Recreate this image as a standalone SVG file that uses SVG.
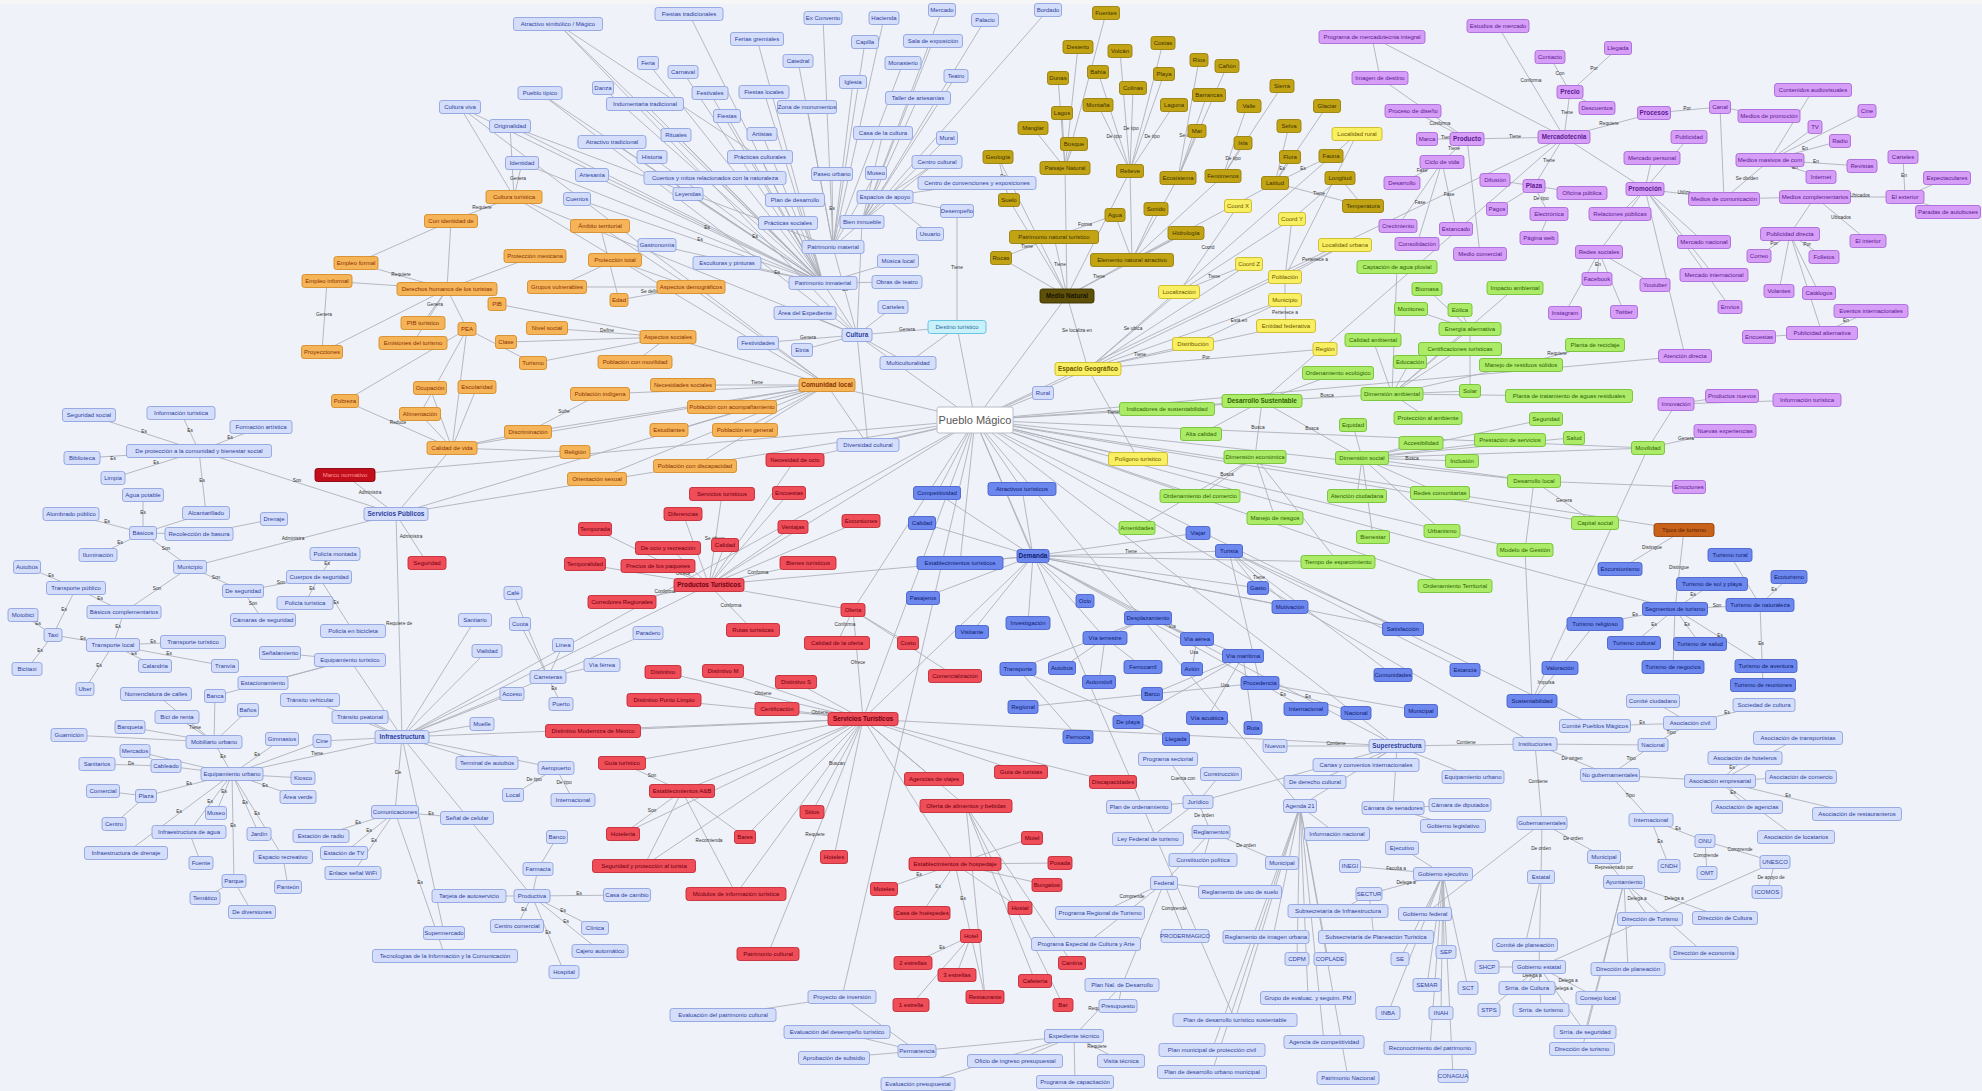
<svg xmlns="http://www.w3.org/2000/svg" width="1982" height="1091" viewBox="0 0 1982 1091">
<style>
text{font-family:"Liberation Sans",Arial,sans-serif;font-size:6px;text-anchor:middle}
.n rect{stroke-width:0.9;rx:2.5}
.lb rect{fill:#d4defa;stroke:#8fa3e0}.lb text{fill:#2d3f9e}
.or rect{fill:#f5b457;stroke:#d68c28}.or text{fill:#8a3206}
.ol rect{fill:#c2a314;stroke:#97800c}.ol text{fill:#3d3200}
.ye rect{fill:#f9ef62;stroke:#cdb925}.ye text{fill:#6a5600}
.pu rect{fill:#d69ef7;stroke:#aa6ad9}.pu text{fill:#5c1893}
.gr rect{fill:#abeb68;stroke:#73c232}.gr text{fill:#2d6200}
.rd rect{fill:#ef4d58;stroke:#c42b37}.rd text{fill:#6e0012}
.mb rect{fill:#6c88ef;stroke:#4963cb}.mb text{fill:#0f1b6e}
.dr rect{fill:#c20d1a;stroke:#8a0008}.dr text{fill:#ff9a9a}
.do rect{fill:#5e5008;stroke:#3a3000}.do text{fill:#1a1400}
.br rect{fill:#c8621a;stroke:#96440c}.br text{fill:#5a2000}
.cy rect{fill:#c9f1fb;stroke:#5ac0e0}.cy text{fill:#2a6a9a}
.b text{font-weight:bold;font-size:6.4px}
#connectors line{stroke:#abaeb8;stroke-width:0.85}
#labels text{font-size:4.8px;fill:#333}
</style>
<rect width="1982" height="1091" fill="#eff2f8"/>
<rect width="1982" height="4" fill="#f6f6f6"/>
<g id="connectors">
<line x1="975" y1="420" x2="1088" y2="369"/><line x1="975" y1="420" x2="827" y2="385"/><line x1="975" y1="420" x2="857" y2="335"/><line x1="975" y1="420" x2="396" y2="514"/><line x1="975" y1="420" x2="402" y2="737"/><line x1="975" y1="420" x2="1397" y2="746"/><line x1="975" y1="420" x2="1262" y2="401"/><line x1="975" y1="420" x2="1033" y2="556"/><line x1="975" y1="420" x2="863" y2="719"/><line x1="975" y1="420" x2="709" y2="585"/><line x1="975" y1="420" x2="1564" y2="137"/><line x1="975" y1="420" x2="957" y2="327"/><line x1="975" y1="420" x2="1067" y2="296"/><line x1="975" y1="420" x2="1043" y2="393"/><line x1="975" y1="420" x2="868" y2="445"/><line x1="975" y1="420" x2="1138" y2="459"/><line x1="975" y1="420" x2="1022" y2="489"/><line x1="975" y1="420" x2="937" y2="493"/><line x1="975" y1="420" x2="345" y2="475"/><line x1="975" y1="420" x2="853" y2="610"/><line x1="975" y1="420" x2="960" y2="563"/><line x1="975" y1="420" x2="1675" y2="609"/><line x1="975" y1="420" x2="1534" y2="481"/><line x1="975" y1="420" x2="1535" y2="744"/><line x1="975" y1="420" x2="842" y2="997"/><line x1="975" y1="420" x2="1235" y2="1020"/><line x1="975" y1="420" x2="1300" y2="806"/><line x1="975" y1="420" x2="1595" y2="726"/><line x1="975" y1="420" x2="1684" y2="530"/><line x1="975" y1="420" x2="1455" y2="586"/><line x1="975" y1="420" x2="1525" y2="550"/><line x1="975" y1="420" x2="1595" y2="523"/><line x1="975" y1="420" x2="1648" y2="448"/><line x1="975" y1="420" x2="1685" y2="356"/><line x1="975" y1="420" x2="1200" y2="496"/><line x1="975" y1="420" x2="1167" y2="409"/><line x1="975" y1="420" x2="795" y2="460"/>
<line x1="402" y1="737" x2="863" y2="719"/><line x1="402" y1="737" x2="709" y2="585"/><line x1="396" y1="514" x2="827" y2="385"/><line x1="863" y1="719" x2="1397" y2="746"/><line x1="558" y1="24" x2="857" y2="335"/><line x1="540" y1="93" x2="857" y2="335"/><line x1="460" y1="107" x2="827" y2="385"/><line x1="510" y1="126" x2="833" y2="247"/><line x1="558" y1="24" x2="760" y2="157"/><line x1="1033" y1="556" x2="863" y2="719"/><line x1="827" y1="385" x2="868" y2="445"/><line x1="709" y1="585" x2="1033" y2="556"/><line x1="1564" y1="137" x2="1262" y2="401"/><line x1="1397" y1="746" x2="1033" y2="556"/>
<line x1="1088" y1="369" x2="1179" y2="292"/><line x1="1088" y1="369" x2="1193" y2="344"/><line x1="1088" y1="369" x2="1067" y2="296"/><line x1="1088" y1="369" x2="1286" y2="326"/><line x1="1088" y1="369" x2="1325" y2="349"/><line x1="1088" y1="369" x2="1138" y2="459"/><line x1="1088" y1="369" x2="1285" y2="300"/><line x1="1088" y1="369" x2="1249" y2="264"/><line x1="1088" y1="369" x2="1345" y2="245"/><line x1="1088" y1="369" x2="1357" y2="134"/>
<line x1="1179" y1="292" x2="1238" y2="206"/><line x1="1179" y1="292" x2="1292" y2="219"/><line x1="1179" y1="292" x2="1249" y2="264"/><line x1="1285" y1="300" x2="1285" y2="277"/><line x1="1285" y1="277" x2="1345" y2="245"/><line x1="1285" y1="277" x2="1357" y2="134"/><line x1="1285" y1="277" x2="1292" y2="219"/><line x1="1286" y1="326" x2="1285" y2="300"/><line x1="1193" y1="344" x2="1285" y2="300"/>
<line x1="1067" y1="296" x2="1054" y2="237"/><line x1="1067" y1="296" x2="1132" y2="260"/><line x1="1067" y1="296" x2="1065" y2="168"/><line x1="1067" y1="296" x2="1001" y2="258"/><line x1="1067" y1="296" x2="1009" y2="200"/><line x1="1067" y1="296" x2="998" y2="157"/><line x1="1067" y1="296" x2="1186" y2="233"/><line x1="1067" y1="296" x2="1130" y2="171"/>
<line x1="1132" y1="260" x2="1130" y2="171"/><line x1="1132" y1="260" x2="1115" y2="215"/><line x1="1132" y1="260" x2="1156" y2="209"/><line x1="1132" y1="260" x2="1186" y2="233"/><line x1="1132" y1="260" x2="1178" y2="178"/><line x1="1132" y1="260" x2="1223" y2="176"/><line x1="1132" y1="260" x2="1275" y2="183"/>
<line x1="1130" y1="171" x2="1098" y2="105"/><line x1="1130" y1="171" x2="1133" y2="88"/><line x1="1130" y1="171" x2="1174" y2="105"/><line x1="1130" y1="171" x2="1164" y2="74"/><line x1="1130" y1="171" x2="1120" y2="51"/><line x1="1130" y1="171" x2="1163" y2="43"/><line x1="1130" y1="171" x2="1098" y2="72"/>
<line x1="1065" y1="168" x2="1074" y2="144"/><line x1="1065" y1="168" x2="1033" y2="128"/><line x1="1065" y1="168" x2="1058" y2="78"/><line x1="1065" y1="168" x2="1062" y2="113"/><line x1="1065" y1="168" x2="1106" y2="13"/><line x1="1065" y1="168" x2="1078" y2="47"/>
<line x1="1178" y1="178" x2="1207" y2="95"/><line x1="1178" y1="178" x2="1197" y2="131"/><line x1="1178" y1="178" x2="1199" y2="60"/><line x1="1178" y1="178" x2="1227" y2="66"/>
<line x1="1223" y1="176" x2="1247" y2="106"/><line x1="1223" y1="176" x2="1243" y2="143"/><line x1="1223" y1="176" x2="1282" y2="86"/>
<line x1="1275" y1="183" x2="1289" y2="126"/><line x1="1275" y1="183" x2="1290" y2="157"/><line x1="1275" y1="183" x2="1331" y2="156"/><line x1="1275" y1="183" x2="1327" y2="106"/><line x1="1363" y1="206" x2="1275" y2="183"/><line x1="1340" y1="178" x2="1292" y2="219"/><line x1="1363" y1="206" x2="1340" y2="178"/>
<line x1="998" y1="157" x2="1009" y2="200"/><line x1="1001" y1="258" x2="1054" y2="237"/><line x1="1054" y1="237" x2="1115" y2="215"/>
<line x1="857" y1="335" x2="833" y2="247"/><line x1="857" y1="335" x2="823" y2="283"/><line x1="857" y1="335" x2="758" y2="343"/><line x1="857" y1="335" x2="802" y2="350"/><line x1="857" y1="335" x2="908" y2="363"/><line x1="857" y1="335" x2="805" y2="313"/><line x1="857" y1="335" x2="893" y2="307"/><line x1="857" y1="335" x2="862" y2="222"/><line x1="857" y1="335" x2="868" y2="445"/><line x1="857" y1="335" x2="514" y2="197"/>
<line x1="833" y1="247" x2="807" y2="107"/><line x1="833" y1="247" x2="823" y2="18"/><line x1="833" y1="247" x2="884" y2="18"/><line x1="833" y1="247" x2="865" y2="42"/><line x1="833" y1="247" x2="798" y2="61"/><line x1="833" y1="247" x2="853" y2="82"/><line x1="833" y1="247" x2="903" y2="63"/><line x1="833" y1="247" x2="876" y2="173"/><line x1="833" y1="247" x2="832" y2="174"/><line x1="833" y1="247" x2="862" y2="222"/>
<line x1="862" y1="222" x2="942" y2="10"/><line x1="862" y1="222" x2="985" y2="20"/><line x1="862" y1="222" x2="956" y2="76"/><line x1="862" y1="222" x2="933" y2="41"/><line x1="862" y1="222" x2="883" y2="133"/><line x1="862" y1="222" x2="947" y2="138"/><line x1="862" y1="222" x2="937" y2="162"/><line x1="862" y1="222" x2="918" y2="98"/><line x1="862" y1="222" x2="1048" y2="10"/>
<line x1="885" y1="197" x2="977" y2="183"/><line x1="885" y1="197" x2="957" y2="211"/><line x1="885" y1="197" x2="930" y2="234"/><line x1="885" y1="197" x2="937" y2="162"/>
<line x1="823" y1="283" x2="689" y2="14"/><line x1="823" y1="283" x2="757" y2="39"/><line x1="823" y1="283" x2="648" y2="63"/><line x1="823" y1="283" x2="683" y2="72"/><line x1="823" y1="283" x2="710" y2="93"/><line x1="823" y1="283" x2="764" y2="92"/><line x1="823" y1="283" x2="727" y2="116"/><line x1="823" y1="283" x2="603" y2="88"/><line x1="823" y1="283" x2="676" y2="135"/><line x1="823" y1="283" x2="762" y2="134"/><line x1="823" y1="283" x2="760" y2="157"/><line x1="823" y1="283" x2="688" y2="194"/><line x1="823" y1="283" x2="577" y2="199"/><line x1="823" y1="283" x2="715" y2="178"/><line x1="823" y1="283" x2="657" y2="245"/><line x1="823" y1="283" x2="727" y2="263"/><line x1="823" y1="283" x2="788" y2="223"/><line x1="823" y1="283" x2="795" y2="200"/><line x1="823" y1="283" x2="898" y2="261"/><line x1="823" y1="283" x2="897" y2="282"/><line x1="823" y1="283" x2="558" y2="24"/><line x1="823" y1="283" x2="645" y2="104"/><line x1="823" y1="283" x2="592" y2="175"/><line x1="823" y1="283" x2="652" y2="157"/><line x1="823" y1="283" x2="612" y2="142"/><line x1="823" y1="283" x2="522" y2="163"/><line x1="823" y1="283" x2="510" y2="126"/><line x1="823" y1="283" x2="460" y2="107"/><line x1="823" y1="283" x2="540" y2="93"/>
<line x1="514" y1="197" x2="522" y2="163"/><line x1="514" y1="197" x2="510" y2="126"/><line x1="514" y1="197" x2="460" y2="107"/><line x1="514" y1="197" x2="451" y2="221"/>
<line x1="827" y1="385" x2="683" y2="385"/><line x1="827" y1="385" x2="732" y2="407"/><line x1="827" y1="385" x2="742" y2="430"/><line x1="827" y1="385" x2="600" y2="394"/><line x1="827" y1="385" x2="695" y2="466"/><line x1="827" y1="385" x2="668" y2="337"/><line x1="827" y1="385" x2="691" y2="287"/><line x1="827" y1="385" x2="514" y2="197"/><line x1="827" y1="385" x2="597" y2="479"/><line x1="827" y1="385" x2="528" y2="432"/><line x1="827" y1="385" x2="452" y2="448"/><line x1="827" y1="385" x2="675" y2="430"/>
<line x1="691" y1="287" x2="619" y2="300"/><line x1="691" y1="287" x2="557" y2="287"/><line x1="691" y1="287" x2="615" y2="260"/><line x1="691" y1="287" x2="600" y2="226"/>
<line x1="668" y1="337" x2="547" y2="328"/><line x1="668" y1="337" x2="533" y2="363"/><line x1="668" y1="337" x2="635" y2="362"/><line x1="668" y1="337" x2="508" y2="342"/><line x1="668" y1="337" x2="497" y2="304"/>
<line x1="452" y1="448" x2="345" y2="401"/><line x1="452" y1="448" x2="420" y2="414"/><line x1="452" y1="448" x2="430" y2="388"/><line x1="452" y1="448" x2="477" y2="387"/><line x1="452" y1="448" x2="575" y2="452"/><line x1="452" y1="448" x2="528" y2="432"/>
<line x1="447" y1="289" x2="423" y2="323"/><line x1="447" y1="289" x2="467" y2="329"/><line x1="447" y1="289" x2="413" y2="343"/><line x1="447" y1="289" x2="356" y2="263"/><line x1="447" y1="289" x2="327" y2="281"/><line x1="447" y1="289" x2="322" y2="352"/><line x1="447" y1="289" x2="451" y2="221"/><line x1="447" y1="289" x2="535" y2="256"/>
<line x1="327" y1="281" x2="322" y2="352"/><line x1="356" y1="263" x2="451" y2="221"/><line x1="467" y1="329" x2="345" y2="401"/><line x1="467" y1="329" x2="420" y2="414"/><line x1="467" y1="329" x2="452" y2="448"/><line x1="467" y1="329" x2="533" y2="363"/><line x1="557" y1="287" x2="615" y2="260"/><line x1="600" y1="394" x2="528" y2="432"/><line x1="619" y1="300" x2="600" y2="226"/>
<line x1="396" y1="514" x2="199" y2="451"/><line x1="396" y1="514" x2="190" y2="567"/><line x1="396" y1="514" x2="345" y2="475"/><line x1="396" y1="514" x2="427" y2="563"/><line x1="396" y1="514" x2="452" y2="448"/><line x1="396" y1="514" x2="402" y2="737"/>
<line x1="199" y1="451" x2="89" y2="415"/><line x1="199" y1="451" x2="181" y2="413"/><line x1="199" y1="451" x2="261" y2="427"/><line x1="199" y1="451" x2="82" y2="458"/><line x1="199" y1="451" x2="113" y2="478"/><line x1="199" y1="451" x2="206" y2="513"/>
<line x1="190" y1="567" x2="143" y2="533"/><line x1="190" y1="567" x2="124" y2="612"/><line x1="190" y1="567" x2="243" y2="591"/>
<line x1="143" y1="533" x2="143" y2="495"/><line x1="143" y1="533" x2="71" y2="514"/><line x1="143" y1="533" x2="98" y2="555"/><line x1="143" y1="533" x2="199" y2="534"/><line x1="143" y1="533" x2="206" y2="513"/><line x1="199" y1="534" x2="274" y2="519"/>
<line x1="243" y1="591" x2="319" y2="577"/><line x1="243" y1="591" x2="263" y2="620"/><line x1="319" y1="577" x2="335" y2="554"/><line x1="319" y1="577" x2="305" y2="603"/><line x1="319" y1="577" x2="353" y2="631"/>
<line x1="124" y1="612" x2="76" y2="588"/><line x1="124" y1="612" x2="113" y2="645"/><line x1="76" y1="588" x2="27" y2="567"/><line x1="76" y1="588" x2="53" y2="635"/><line x1="53" y1="635" x2="23" y2="615"/><line x1="53" y1="635" x2="27" y2="669"/>
<line x1="113" y1="645" x2="193" y2="642"/><line x1="113" y1="645" x2="155" y2="666"/><line x1="113" y1="645" x2="225" y2="666"/><line x1="113" y1="645" x2="85" y2="689"/><line x1="113" y1="645" x2="53" y2="635"/>
<line x1="402" y1="737" x2="232" y2="774"/><line x1="402" y1="737" x2="395" y2="812"/><line x1="402" y1="737" x2="350" y2="660"/><line x1="402" y1="737" x2="487" y2="763"/><line x1="402" y1="737" x2="487" y2="651"/><line x1="402" y1="737" x2="482" y2="724"/><line x1="402" y1="737" x2="532" y2="896"/><line x1="402" y1="737" x2="475" y2="620"/><line x1="402" y1="737" x2="310" y2="700"/><line x1="402" y1="737" x2="360" y2="717"/><line x1="402" y1="737" x2="322" y2="741"/><line x1="402" y1="737" x2="556" y2="768"/><line x1="402" y1="737" x2="444" y2="933"/><line x1="402" y1="737" x2="548" y2="677"/><line x1="402" y1="737" x2="512" y2="694"/>
<line x1="350" y1="660" x2="280" y2="653"/><line x1="350" y1="660" x2="263" y2="683"/><line x1="350" y1="660" x2="215" y2="696"/>
<line x1="232" y1="774" x2="214" y2="742"/><line x1="232" y1="774" x2="282" y2="739"/><line x1="232" y1="774" x2="322" y2="741"/><line x1="232" y1="774" x2="135" y2="751"/><line x1="232" y1="774" x2="166" y2="766"/><line x1="232" y1="774" x2="303" y2="778"/><line x1="232" y1="774" x2="298" y2="797"/><line x1="232" y1="774" x2="146" y2="796"/><line x1="232" y1="774" x2="216" y2="813"/><line x1="232" y1="774" x2="189" y2="832"/><line x1="232" y1="774" x2="259" y2="834"/><line x1="232" y1="774" x2="283" y2="857"/><line x1="232" y1="774" x2="234" y2="881"/><line x1="232" y1="774" x2="126" y2="853"/>
<line x1="214" y1="742" x2="156" y2="694"/><line x1="214" y1="742" x2="215" y2="696"/><line x1="214" y1="742" x2="248" y2="710"/><line x1="214" y1="742" x2="177" y2="717"/><line x1="214" y1="742" x2="130" y2="727"/><line x1="214" y1="742" x2="69" y2="735"/>
<line x1="166" y1="766" x2="135" y2="751"/><line x1="166" y1="766" x2="97" y2="764"/><line x1="146" y1="796" x2="103" y2="791"/><line x1="146" y1="796" x2="114" y2="824"/><line x1="189" y1="832" x2="201" y2="863"/><line x1="234" y1="881" x2="205" y2="898"/><line x1="234" y1="881" x2="252" y2="912"/><line x1="283" y1="857" x2="288" y2="887"/>
<line x1="395" y1="812" x2="467" y2="818"/><line x1="395" y1="812" x2="321" y2="836"/><line x1="395" y1="812" x2="344" y2="853"/><line x1="395" y1="812" x2="353" y2="873"/><line x1="395" y1="812" x2="445" y2="956"/>
<line x1="532" y1="896" x2="470" y2="896"/><line x1="532" y1="896" x2="627" y2="895"/><line x1="532" y1="896" x2="517" y2="926"/><line x1="532" y1="896" x2="595" y2="928"/><line x1="532" y1="896" x2="600" y2="951"/><line x1="532" y1="896" x2="564" y2="972"/><line x1="532" y1="896" x2="538" y2="869"/><line x1="538" y1="869" x2="557" y2="837"/>
<line x1="556" y1="768" x2="513" y2="795"/><line x1="556" y1="768" x2="573" y2="800"/>
<line x1="548" y1="677" x2="563" y2="645"/><line x1="548" y1="677" x2="602" y2="665"/><line x1="548" y1="677" x2="520" y2="624"/><line x1="548" y1="677" x2="561" y2="704"/><line x1="548" y1="677" x2="513" y2="593"/><line x1="548" y1="677" x2="648" y2="633"/>
<line x1="709" y1="585" x2="722" y2="494"/><line x1="709" y1="585" x2="683" y2="514"/><line x1="709" y1="585" x2="595" y2="529"/><line x1="709" y1="585" x2="670" y2="548"/><line x1="709" y1="585" x2="585" y2="564"/><line x1="709" y1="585" x2="658" y2="565"/><line x1="709" y1="585" x2="808" y2="563"/><line x1="709" y1="585" x2="622" y2="602"/><line x1="709" y1="585" x2="753" y2="630"/><line x1="709" y1="585" x2="725" y2="545"/><line x1="709" y1="585" x2="795" y2="460"/><line x1="709" y1="585" x2="853" y2="610"/><line x1="709" y1="585" x2="789" y2="493"/><line x1="709" y1="585" x2="793" y2="527"/><line x1="709" y1="585" x2="861" y2="521"/>
<line x1="853" y1="610" x2="837" y2="643"/><line x1="853" y1="610" x2="908" y2="643"/><line x1="853" y1="610" x2="863" y2="719"/><line x1="853" y1="610" x2="955" y2="676"/>
<line x1="863" y1="719" x2="663" y2="672"/><line x1="863" y1="719" x2="723" y2="671"/><line x1="863" y1="719" x2="796" y2="682"/><line x1="863" y1="719" x2="664" y2="700"/><line x1="863" y1="719" x2="777" y2="709"/><line x1="863" y1="719" x2="682" y2="791"/><line x1="863" y1="719" x2="622" y2="763"/><line x1="863" y1="719" x2="623" y2="834"/><line x1="863" y1="719" x2="745" y2="837"/><line x1="863" y1="719" x2="812" y2="812"/><line x1="863" y1="719" x2="834" y2="857"/><line x1="863" y1="719" x2="955" y2="864"/><line x1="863" y1="719" x2="934" y2="779"/><line x1="863" y1="719" x2="966" y2="806"/><line x1="863" y1="719" x2="1021" y2="772"/><line x1="863" y1="719" x2="1113" y2="782"/><line x1="863" y1="719" x2="736" y2="894"/><line x1="863" y1="719" x2="768" y2="954"/><line x1="863" y1="719" x2="644" y2="866"/><line x1="863" y1="719" x2="593" y2="731"/>
<line x1="955" y1="864" x2="884" y2="889"/><line x1="955" y1="864" x2="922" y2="913"/><line x1="955" y1="864" x2="971" y2="936"/><line x1="955" y1="864" x2="1032" y2="838"/><line x1="955" y1="864" x2="1060" y2="863"/><line x1="955" y1="864" x2="1047" y2="885"/><line x1="955" y1="864" x2="1020" y2="908"/>
<line x1="971" y1="936" x2="913" y2="963"/><line x1="971" y1="936" x2="957" y2="973"/><line x1="971" y1="936" x2="911" y2="1005"/><line x1="971" y1="936" x2="985" y2="997"/>
<line x1="966" y1="806" x2="1072" y2="963"/><line x1="966" y1="806" x2="1035" y2="981"/><line x1="966" y1="806" x2="1063" y2="1005"/><line x1="966" y1="806" x2="985" y2="997"/>
<line x1="682" y1="791" x2="622" y2="763"/><line x1="682" y1="791" x2="623" y2="834"/><line x1="682" y1="791" x2="644" y2="866"/><line x1="682" y1="791" x2="745" y2="837"/><line x1="682" y1="791" x2="736" y2="894"/>
<line x1="1033" y1="556" x2="1022" y2="489"/><line x1="1033" y1="556" x2="1028" y2="623"/><line x1="1033" y1="556" x2="1085" y2="601"/><line x1="1033" y1="556" x2="1105" y2="638"/><line x1="1033" y1="556" x2="1198" y2="533"/><line x1="1033" y1="556" x2="1229" y2="551"/><line x1="1033" y1="556" x2="937" y2="493"/><line x1="1033" y1="556" x2="922" y2="523"/><line x1="1033" y1="556" x2="960" y2="563"/><line x1="1033" y1="556" x2="923" y2="598"/><line x1="1033" y1="556" x2="972" y2="632"/><line x1="1033" y1="556" x2="1148" y2="618"/><line x1="1033" y1="556" x2="1403" y2="629"/><line x1="1033" y1="556" x2="1290" y2="607"/><line x1="1033" y1="556" x2="1258" y2="588"/><line x1="1033" y1="556" x2="1260" y2="683"/><line x1="1033" y1="556" x2="1338" y2="562"/>
<line x1="1229" y1="551" x2="1258" y2="588"/><line x1="1229" y1="551" x2="1290" y2="607"/><line x1="1229" y1="551" x2="1260" y2="683"/><line x1="1229" y1="551" x2="1403" y2="629"/><line x1="1229" y1="551" x2="1465" y2="670"/><line x1="1229" y1="551" x2="1393" y2="675"/>
<line x1="1260" y1="683" x2="1306" y2="709"/><line x1="1260" y1="683" x2="1356" y2="713"/><line x1="1260" y1="683" x2="1421" y2="711"/><line x1="1260" y1="683" x2="1023" y2="707"/>
<line x1="1148" y1="618" x2="1105" y2="638"/><line x1="1148" y1="618" x2="1197" y2="639"/><line x1="1148" y1="618" x2="1243" y2="656"/><line x1="1148" y1="618" x2="1018" y2="669"/>
<line x1="1105" y1="638" x2="1062" y2="668"/><line x1="1105" y1="638" x2="1099" y2="682"/><line x1="1105" y1="638" x2="1143" y2="667"/><line x1="1197" y1="639" x2="1192" y2="669"/>
<line x1="1243" y1="656" x2="1152" y2="694"/><line x1="1243" y1="656" x2="1207" y2="718"/><line x1="1243" y1="656" x2="1253" y2="728"/><line x1="1243" y1="656" x2="1128" y2="722"/><line x1="1018" y1="669" x2="1078" y2="737"/><line x1="1018" y1="669" x2="1176" y2="739"/>
<line x1="1262" y1="401" x2="1167" y2="409"/><line x1="1262" y1="401" x2="1255" y2="457"/><line x1="1262" y1="401" x2="1362" y2="458"/><line x1="1262" y1="401" x2="1392" y2="394"/><line x1="1262" y1="401" x2="1338" y2="373"/><line x1="1262" y1="401" x2="1201" y2="434"/>
<line x1="1392" y1="394" x2="1428" y2="418"/><line x1="1392" y1="394" x2="1373" y2="340"/><line x1="1392" y1="394" x2="1470" y2="329"/><line x1="1392" y1="394" x2="1460" y2="349"/><line x1="1392" y1="394" x2="1410" y2="362"/><line x1="1392" y1="394" x2="1519" y2="365"/><line x1="1392" y1="394" x2="1569" y2="396"/><line x1="1392" y1="394" x2="1397" y2="267"/><line x1="1392" y1="394" x2="1470" y2="391"/><line x1="1392" y1="394" x2="1515" y2="288"/>
<line x1="1470" y1="329" x2="1427" y2="289"/><line x1="1470" y1="329" x2="1460" y2="310"/><line x1="1470" y1="329" x2="1411" y2="309"/><line x1="1470" y1="329" x2="1470" y2="391"/><line x1="1519" y1="365" x2="1595" y2="345"/>
<line x1="1362" y1="458" x2="1353" y2="425"/><line x1="1362" y1="458" x2="1421" y2="443"/><line x1="1362" y1="458" x2="1462" y2="461"/><line x1="1362" y1="458" x2="1357" y2="496"/><line x1="1362" y1="458" x2="1440" y2="493"/><line x1="1362" y1="458" x2="1373" y2="537"/><line x1="1362" y1="458" x2="1442" y2="531"/><line x1="1362" y1="458" x2="1534" y2="481"/><line x1="1362" y1="458" x2="1546" y2="419"/><line x1="1362" y1="458" x2="1570" y2="438"/><line x1="1362" y1="458" x2="1512" y2="440"/><line x1="1362" y1="458" x2="1648" y2="448"/>
<line x1="1255" y1="457" x2="1200" y2="496"/><line x1="1255" y1="457" x2="1275" y2="518"/><line x1="1255" y1="457" x2="1137" y2="528"/><line x1="1255" y1="457" x2="1338" y2="562"/>
<line x1="1534" y1="481" x2="1595" y2="523"/><line x1="1534" y1="481" x2="1525" y2="550"/><line x1="1534" y1="481" x2="1689" y2="487"/><line x1="1648" y1="448" x2="1725" y2="431"/><line x1="1648" y1="448" x2="1676" y2="404"/><line x1="1676" y1="404" x2="1730" y2="396"/><line x1="1676" y1="404" x2="1807" y2="400"/>
<line x1="1564" y1="137" x2="1570" y2="92"/><line x1="1564" y1="137" x2="1534" y2="186"/><line x1="1564" y1="137" x2="1654" y2="113"/><line x1="1564" y1="137" x2="1645" y2="189"/><line x1="1564" y1="137" x2="1467" y2="139"/><line x1="1564" y1="137" x2="1498" y2="26"/><line x1="1564" y1="137" x2="1372" y2="37"/>
<line x1="1570" y1="92" x2="1550" y2="57"/><line x1="1570" y1="92" x2="1618" y2="48"/><line x1="1570" y1="92" x2="1597" y2="108"/><line x1="1654" y1="113" x2="1720" y2="107"/><line x1="1720" y1="107" x2="1724" y2="199"/><line x1="1720" y1="107" x2="1769" y2="116"/>
<line x1="1645" y1="189" x2="1689" y2="137"/><line x1="1645" y1="189" x2="1620" y2="214"/><line x1="1645" y1="189" x2="1652" y2="158"/><line x1="1645" y1="189" x2="1724" y2="199"/><line x1="1645" y1="189" x2="1704" y2="242"/><line x1="1645" y1="189" x2="1599" y2="252"/><line x1="1645" y1="189" x2="1714" y2="275"/><line x1="1645" y1="189" x2="1685" y2="356"/><line x1="1645" y1="189" x2="1730" y2="307"/>
<line x1="1724" y1="199" x2="1770" y2="160"/><line x1="1724" y1="199" x2="1815" y2="197"/><line x1="1770" y1="160" x2="1815" y2="127"/><line x1="1770" y1="160" x2="1840" y2="141"/><line x1="1770" y1="160" x2="1867" y2="111"/><line x1="1770" y1="160" x2="1862" y2="166"/><line x1="1770" y1="160" x2="1821" y2="177"/><line x1="1770" y1="160" x2="1813" y2="90"/>
<line x1="1815" y1="197" x2="1905" y2="197"/><line x1="1815" y1="197" x2="1790" y2="234"/><line x1="1815" y1="197" x2="1868" y2="241"/><line x1="1905" y1="197" x2="1903" y2="157"/><line x1="1905" y1="197" x2="1947" y2="178"/><line x1="1905" y1="197" x2="1949" y2="212"/>
<line x1="1790" y1="234" x2="1759" y2="256"/><line x1="1790" y1="234" x2="1824" y2="257"/><line x1="1790" y1="234" x2="1779" y2="291"/><line x1="1790" y1="234" x2="1819" y2="293"/><line x1="1790" y1="234" x2="1822" y2="333"/><line x1="1822" y1="333" x2="1871" y2="311"/><line x1="1822" y1="333" x2="1759" y2="337"/>
<line x1="1534" y1="186" x2="1582" y2="193"/><line x1="1534" y1="186" x2="1549" y2="214"/><line x1="1534" y1="186" x2="1497" y2="209"/><line x1="1534" y1="186" x2="1495" y2="180"/><line x1="1549" y1="214" x2="1539" y2="238"/>
<line x1="1599" y1="252" x2="1597" y2="279"/><line x1="1599" y1="252" x2="1655" y2="285"/><line x1="1599" y1="252" x2="1565" y2="313"/><line x1="1599" y1="252" x2="1624" y2="312"/>
<line x1="1467" y1="139" x2="1427" y2="139"/><line x1="1467" y1="139" x2="1442" y2="162"/><line x1="1467" y1="139" x2="1413" y2="111"/><line x1="1467" y1="139" x2="1380" y2="78"/><line x1="1467" y1="139" x2="1480" y2="254"/>
<line x1="1442" y1="162" x2="1402" y2="183"/><line x1="1442" y1="162" x2="1398" y2="226"/><line x1="1442" y1="162" x2="1456" y2="229"/><line x1="1442" y1="162" x2="1417" y2="244"/><line x1="1372" y1="37" x2="1380" y2="78"/>
<line x1="1397" y1="746" x2="1275" y2="746"/><line x1="1397" y1="746" x2="1366" y2="765"/><line x1="1397" y1="746" x2="1535" y2="744"/><line x1="1397" y1="746" x2="1473" y2="777"/><line x1="1397" y1="746" x2="1300" y2="806"/><line x1="1397" y1="746" x2="1315" y2="782"/><line x1="1397" y1="746" x2="1198" y2="802"/><line x1="1397" y1="746" x2="1393" y2="808"/>
<line x1="1198" y1="802" x2="1221" y2="774"/><line x1="1198" y1="802" x2="1168" y2="759"/><line x1="1198" y1="802" x2="1139" y2="807"/><line x1="1198" y1="802" x2="1211" y2="832"/><line x1="1198" y1="802" x2="1148" y2="839"/>
<line x1="1211" y1="832" x2="1203" y2="860"/><line x1="1211" y1="832" x2="1164" y2="883"/><line x1="1211" y1="832" x2="1282" y2="863"/>
<line x1="1164" y1="883" x2="1100" y2="913"/><line x1="1164" y1="883" x2="1185" y2="936"/><line x1="1164" y1="883" x2="1086" y2="944"/><line x1="1164" y1="883" x2="1122" y2="985"/><line x1="1164" y1="883" x2="1240" y2="892"/>
<line x1="1122" y1="985" x2="1118" y2="1006"/><line x1="1122" y1="985" x2="1074" y2="1036"/><line x1="1074" y1="1036" x2="1121" y2="1061"/><line x1="1074" y1="1036" x2="1015" y2="1061"/><line x1="1074" y1="1036" x2="1075" y2="1082"/><line x1="1074" y1="1036" x2="918" y2="1084"/><line x1="1074" y1="1036" x2="917" y2="1051"/>
<line x1="917" y1="1051" x2="837" y2="1032"/><line x1="917" y1="1051" x2="834" y2="1058"/><line x1="842" y1="997" x2="723" y2="1015"/><line x1="842" y1="997" x2="917" y2="1051"/>
<line x1="1300" y1="806" x2="1337" y2="834"/><line x1="1300" y1="806" x2="1273" y2="937"/><line x1="1300" y1="806" x2="1308" y2="998"/><line x1="1300" y1="806" x2="1235" y2="1020"/><line x1="1300" y1="806" x2="1212" y2="1050"/><line x1="1300" y1="806" x2="1212" y2="1072"/><line x1="1300" y1="806" x2="1324" y2="1042"/><line x1="1300" y1="806" x2="1348" y2="1078"/><line x1="1300" y1="806" x2="1297" y2="959"/><line x1="1300" y1="806" x2="1328" y2="959"/>
<line x1="1393" y1="808" x2="1453" y2="826"/><line x1="1393" y1="808" x2="1460" y2="805"/>
<line x1="1535" y1="744" x2="1653" y2="745"/><line x1="1535" y1="744" x2="1610" y2="775"/><line x1="1535" y1="744" x2="1542" y2="823"/>
<line x1="1542" y1="823" x2="1604" y2="857"/><line x1="1542" y1="823" x2="1541" y2="877"/><line x1="1542" y1="823" x2="1425" y2="914"/>
<line x1="1443" y1="874" x2="1402" y2="848"/><line x1="1443" y1="874" x2="1350" y2="866"/><line x1="1443" y1="874" x2="1369" y2="894"/><line x1="1443" y1="874" x2="1425" y2="914"/><line x1="1443" y1="874" x2="1400" y2="959"/><line x1="1443" y1="874" x2="1444" y2="948"/><line x1="1443" y1="874" x2="1468" y2="988"/><line x1="1443" y1="874" x2="1427" y2="985"/><line x1="1443" y1="874" x2="1388" y2="1013"/><line x1="1443" y1="874" x2="1441" y2="1013"/><line x1="1443" y1="874" x2="1430" y2="1048"/><line x1="1443" y1="874" x2="1453" y2="1076"/>
<line x1="1369" y1="894" x2="1340" y2="911"/><line x1="1369" y1="894" x2="1374" y2="937"/>
<line x1="1541" y1="877" x2="1539" y2="967"/><line x1="1541" y1="877" x2="1525" y2="945"/>
<line x1="1539" y1="967" x2="1525" y2="988"/><line x1="1539" y1="967" x2="1541" y2="1010"/><line x1="1539" y1="967" x2="1489" y2="967"/><line x1="1539" y1="967" x2="1489" y2="1010"/><line x1="1539" y1="967" x2="1598" y2="998"/><line x1="1539" y1="967" x2="1585" y2="1032"/>
<line x1="1604" y1="857" x2="1624" y2="882"/><line x1="1624" y1="882" x2="1650" y2="919"/><line x1="1624" y1="882" x2="1725" y2="918"/><line x1="1624" y1="882" x2="1704" y2="953"/><line x1="1624" y1="882" x2="1628" y2="969"/><line x1="1624" y1="882" x2="1582" y2="1049"/><line x1="1624" y1="882" x2="1585" y2="1032"/><line x1="1775" y1="862" x2="1539" y2="967"/>
<line x1="1610" y1="775" x2="1651" y2="820"/><line x1="1610" y1="775" x2="1720" y2="781"/><line x1="1610" y1="775" x2="1653" y2="745"/>
<line x1="1720" y1="781" x2="1745" y2="758"/><line x1="1720" y1="781" x2="1799" y2="777"/><line x1="1720" y1="781" x2="1747" y2="807"/><line x1="1720" y1="781" x2="1857" y2="814"/><line x1="1720" y1="781" x2="1796" y2="837"/><line x1="1720" y1="781" x2="1798" y2="738"/>
<line x1="1651" y1="820" x2="1705" y2="841"/><line x1="1651" y1="820" x2="1669" y2="866"/><line x1="1705" y1="841" x2="1707" y2="873"/><line x1="1705" y1="841" x2="1775" y2="862"/><line x1="1775" y1="862" x2="1767" y2="892"/>
<line x1="1653" y1="745" x2="1690" y2="723"/><line x1="1690" y1="723" x2="1595" y2="726"/><line x1="1690" y1="723" x2="1764" y2="705"/><line x1="1690" y1="723" x2="1653" y2="701"/>
<line x1="1684" y1="530" x2="1620" y2="569"/><line x1="1684" y1="530" x2="1675" y2="609"/>
<line x1="1675" y1="609" x2="1712" y2="584"/><line x1="1675" y1="609" x2="1760" y2="605"/><line x1="1675" y1="609" x2="1595" y2="624"/><line x1="1675" y1="609" x2="1634" y2="643"/><line x1="1675" y1="609" x2="1700" y2="644"/><line x1="1675" y1="609" x2="1673" y2="667"/><line x1="1675" y1="609" x2="1766" y2="666"/>
<line x1="1760" y1="605" x2="1730" y2="555"/><line x1="1760" y1="605" x2="1789" y2="577"/><line x1="1760" y1="605" x2="1763" y2="685"/>
<line x1="1560" y1="668" x2="1595" y2="624"/><line x1="1560" y1="668" x2="1532" y2="701"/><line x1="1532" y1="701" x2="1525" y2="550"/><line x1="1532" y1="701" x2="1648" y2="448"/>
<line x1="957" y1="327" x2="857" y2="335"/><line x1="957" y1="327" x2="908" y2="363"/><line x1="957" y1="327" x2="957" y2="211"/>
</g>
<g id="labels">
<text x="1133" y="330">Se ubica</text><text x="1140" y="356">Tiene</text><text x="1077" y="332">Se localiza en</text><text x="1187" y="347">Está en</text><text x="1206" y="359">Por</text><text x="1113" y="414">Tiene</text><text x="1208" y="249">Coord</text><text x="1214" y="278">Tiene</text><text x="1315" y="261">Pertenece a</text><text x="1285" y="314">Pertenece a</text><text x="1239" y="322">Está en</text><text x="1060" y="266">Tiene</text><text x="1099" y="278">Tiene</text><text x="1114" y="138">De tipo</text><text x="1131" y="130">De tipo</text><text x="1152" y="138">De tipo</text><text x="1192" y="137">Se deposita</text><text x="1233" y="160">De tipo</text><text x="1282" y="170">Es</text><text x="1303" y="170">Es</text><text x="1319" y="195">Tiene</text><text x="1003" y="178">Es</text><text x="1027" y="248">Tiene</text><text x="1085" y="226">Forma</text>
<text x="845" y="291">Es</text><text x="808" y="339">Genera</text><text x="832" y="210">Es</text><text x="931" y="190">Es</text><text x="777" y="274">Es</text><text x="700" y="241">Es</text><text x="755" y="238">Es</text><text x="707" y="229">Es</text><text x="518" y="180">Genera</text><text x="482" y="209">Requiere</text>
<text x="757" y="384">Tiene</text><text x="655" y="293">Se define por</text><text x="607" y="332">Define</text><text x="398" y="424">Reduce</text><text x="435" y="306">Genera</text><text x="401" y="276">Requiere</text><text x="324" y="316">Genera</text><text x="564" y="413">Sufre</text>
<text x="297" y="482">Son</text><text x="293" y="540">Administra</text><text x="370" y="494">Administra</text><text x="411" y="538">Administra</text><text x="399" y="625">Requiere de</text>
<text x="144" y="433">Es</text><text x="190" y="432">Es</text><text x="230" y="439">Es</text><text x="113" y="460">Es</text><text x="156" y="464">Es</text><text x="202" y="482">Es</text><text x="166" y="550">Son</text><text x="157" y="590">Son</text><text x="216" y="579">Son</text><text x="143" y="514">Es</text><text x="107" y="523">Es</text><text x="120" y="544">Es</text><text x="171" y="532">Es</text><text x="281" y="584">Son</text><text x="253" y="605">Son</text><text x="327" y="565">Es</text><text x="312" y="590">Es</text><text x="336" y="604">Es</text><text x="100" y="600">Es</text><text x="118" y="628">Es</text><text x="51" y="577">Es</text><text x="64" y="611">Es</text><text x="38" y="625">Es</text><text x="40" y="652">Es</text><text x="153" y="643">Es</text><text x="134" y="655">Es</text><text x="169" y="655">Es</text><text x="99" y="667">Es</text><text x="83" y="640">Es</text>
<text x="317" y="755">Tiene</text><text x="398" y="774">De</text><text x="223" y="758">Es</text><text x="257" y="756">Es</text><text x="265" y="787">Es</text><text x="189" y="785">Es</text><text x="224" y="793">Es</text><text x="210" y="803">Es</text><text x="245" y="804">Es</text><text x="257" y="815">Es</text><text x="233" y="827">Es</text><text x="179" y="813">Es</text><text x="195" y="729">Tiene</text><text x="131" y="765">De</text><text x="431" y="815">Es</text><text x="358" y="824">Es</text><text x="369" y="832">Es</text><text x="374" y="842">Es</text><text x="420" y="884">Es</text><text x="501" y="896">Es</text><text x="579" y="895">Es</text><text x="524" y="911">Es</text><text x="563" y="912">Es</text><text x="566" y="923">Es</text><text x="548" y="934">Es</text><text x="534" y="781">De tipo</text><text x="564" y="784">De tipo</text><text x="554" y="690">Es</text>
<text x="715" y="540">Se ofrece</text><text x="683" y="575">Ofrece</text><text x="758" y="574">Conforma</text><text x="665" y="593">Conforma</text><text x="731" y="607">Conforma</text><text x="845" y="626">Conforma</text><text x="858" y="664">Ofrece</text><text x="763" y="695">Obtiene</text><text x="820" y="714">Obtiene</text><text x="837" y="765">Buscan</text><text x="815" y="836">Requiere</text><text x="919" y="876">Es</text><text x="938" y="888">Es</text><text x="963" y="900">Es</text><text x="942" y="949">Es</text><text x="652" y="777">Son</text><text x="652" y="812">Son</text><text x="709" y="842">Recomienda</text>
<text x="1131" y="553">Tiene</text><text x="1259" y="579">Tiene</text><text x="1283" y="696">Es</text><text x="1308" y="698">Es</text><text x="1172" y="628">Vía</text><text x="1194" y="654">Usa</text><text x="1225" y="687">Usa</text>
<text x="1258" y="429">Busca</text><text x="1312" y="430">Busca</text><text x="1327" y="397">Busca</text><text x="1412" y="460">Busca</text><text x="1227" y="476">Busca</text><text x="1557" y="355">Requiere</text><text x="1564" y="502">Genera</text><text x="1686" y="440">Genera</text>
<text x="1567" y="114">Tiene</text><text x="1549" y="162">Tiene</text><text x="1609" y="125">Requiere</text><text x="1515" y="138">Tiene</text><text x="1531" y="82">Conforma</text><text x="1560" y="75">Con</text><text x="1594" y="70">Por</text><text x="1687" y="110">Por</text><text x="1684" y="194">Utiliza</text><text x="1747" y="180">Se dividen</text><text x="1805" y="150">En</text><text x="1816" y="163">En</text><text x="1795" y="169">En</text><text x="1860" y="197">Ubicados</text><text x="1841" y="219">Ubicados</text><text x="1904" y="177">En</text><text x="1774" y="245">Por</text><text x="1807" y="246">Por</text><text x="1846" y="322">En</text><text x="1541" y="200">De tipo</text><text x="1598" y="266">En</text><text x="1447" y="139">Tiene</text><text x="1454" y="150">Tiene</text><text x="1440" y="125">Conforma</text><text x="1422" y="172">Fase</text><text x="1420" y="204">Fase</text><text x="1449" y="196">Fase</text>
<text x="1336" y="745">Contiene</text><text x="1466" y="744">Contiene</text><text x="1183" y="780">Cuenta con</text><text x="1204" y="817">De orden</text><text x="1187" y="857">De orden</text><text x="1246" y="847">De orden</text><text x="1132" y="898">Comprende</text><text x="1174" y="910">Comprende</text><text x="1098" y="1010">Requiere</text><text x="1097" y="1048">Requiere</text>
<text x="1572" y="760">De origen</text><text x="1538" y="783">Contiene</text><text x="1573" y="840">De orden</text><text x="1541" y="850">De orden</text><text x="1396" y="870">Faculta a</text><text x="1406" y="884">Delega a</text><text x="1532" y="977">Delega a</text><text x="1563" y="990">Delega a</text><text x="1568" y="982">Delega a</text><text x="1614" y="869">Representado por</text><text x="1637" y="900">Delega a</text><text x="1674" y="900">Delega a</text><text x="1630" y="797">Tipo</text><text x="1631" y="760">Tipo</text><text x="1732" y="769">Es</text><text x="1733" y="794">Es</text><text x="1788" y="797">Es</text><text x="1678" y="830">Es</text><text x="1660" y="843">Es</text><text x="1706" y="857">Comprende</text><text x="1740" y="851">Comprende</text><text x="1771" y="879">De apoyo de</text><text x="1671" y="734">Tipo</text><text x="1642" y="724">Es</text><text x="1727" y="714">Es</text>
<text x="1652" y="549">Distingue</text><text x="1679" y="569">Distingue</text><text x="1693" y="596">Es</text><text x="1717" y="607">Son</text><text x="1635" y="616">Es</text><text x="1654" y="626">Es</text><text x="1687" y="626">Es</text><text x="1720" y="637">Es</text><text x="1774" y="591">Es</text><text x="1761" y="645">Es</text><text x="1546" y="684">Impulsa</text><text x="907" y="331">Genera</text><text x="957" y="269">Tiene</text>
</g>
<g id="nodes">
<g id="pueblo-magico" transform="translate(975,420)"><rect x="-38" y="-13" width="76" height="26" rx="2" fill="#ffffff" stroke="#b8bcc6"/><text y="4" style="font-size:11px;fill:#555">Pueblo Mágico</text></g>
<g id="n001" class="n lb" transform="translate(460,107)"><rect x="-20.5" y="-6.5" width="41" height="13"/><text y="2">Cultura viva</text></g>
<g id="n002" class="n lb" transform="translate(510,126)"><rect x="-20.5" y="-6.5" width="41" height="13"/><text y="2">Originalidad</text></g>
<g id="n003" class="n lb" transform="translate(558,24)"><rect x="-44.5" y="-6.5" width="89" height="13"/><text y="2">Atractivo simbólico / Mágico</text></g>
<g id="n004" class="n lb" transform="translate(689,14)"><rect x="-34" y="-6.5" width="68" height="13"/><text y="2">Fiestas tradicionales</text></g>
<g id="n005" class="n lb" transform="translate(823,18)"><rect x="-19" y="-6.5" width="38" height="13"/><text y="2">Ex Convento</text></g>
<g id="n006" class="n lb" transform="translate(884,18)"><rect x="-15" y="-6.5" width="30" height="13"/><text y="2">Hacienda</text></g>
<g id="n007" class="n lb" transform="translate(942,10)"><rect x="-13.5" y="-6.5" width="27" height="13"/><text y="2">Mercado</text></g>
<g id="n008" class="n lb" transform="translate(985,20)"><rect x="-13.5" y="-6.5" width="27" height="13"/><text y="2">Palacio</text></g>
<g id="n009" class="n lb" transform="translate(757,39)"><rect x="-26.5" y="-6.5" width="53" height="13"/><text y="2">Ferias gremiales</text></g>
<g id="n010" class="n lb" transform="translate(865,42)"><rect x="-13.5" y="-6.5" width="27" height="13"/><text y="2">Capilla</text></g>
<g id="n011" class="n lb" transform="translate(933,41)"><rect x="-29.5" y="-6.5" width="59" height="13"/><text y="2">Sala de exposición</text></g>
<g id="n012" class="n lb" transform="translate(798,61)"><rect x="-15" y="-6.5" width="30" height="13"/><text y="2">Catedral</text></g>
<g id="n013" class="n lb" transform="translate(903,63)"><rect x="-18" y="-6.5" width="36" height="13"/><text y="2">Monasterio</text></g>
<g id="n014" class="n lb" transform="translate(648,63)"><rect x="-10.5" y="-6.5" width="21" height="13"/><text y="2">Feria</text></g>
<g id="n015" class="n lb" transform="translate(683,72)"><rect x="-15" y="-6.5" width="30" height="13"/><text y="2">Carnaval</text></g>
<g id="n016" class="n lb" transform="translate(853,82)"><rect x="-13.5" y="-6.5" width="27" height="13"/><text y="2">Iglesia</text></g>
<g id="n017" class="n lb" transform="translate(956,76)"><rect x="-12" y="-6.5" width="24" height="13"/><text y="2">Teatro</text></g>
<g id="n018" class="n lb" transform="translate(603,88)"><rect x="-10.5" y="-6.5" width="21" height="13"/><text y="2">Danza</text></g>
<g id="n019" class="n lb" transform="translate(710,93)"><rect x="-18" y="-6.5" width="36" height="13"/><text y="2">Festivales</text></g>
<g id="n020" class="n lb" transform="translate(764,92)"><rect x="-25" y="-6.5" width="50" height="13"/><text y="2">Fiestas locales</text></g>
<g id="n021" class="n lb" transform="translate(540,93)"><rect x="-22" y="-6.5" width="44" height="13"/><text y="2">Pueblo típico</text></g>
<g id="n022" class="n lb" transform="translate(645,104)"><rect x="-38.5" y="-6.5" width="77" height="13"/><text y="2">Indumentaria tradicional</text></g>
<g id="n023" class="n lb" transform="translate(807,107)"><rect x="-29.5" y="-6.5" width="59" height="13"/><text y="2">Zona de monumentos</text></g>
<g id="n024" class="n lb" transform="translate(918,98)"><rect x="-32.5" y="-6.5" width="65" height="13"/><text y="2">Taller de artesanías</text></g>
<g id="n025" class="n lb" transform="translate(727,116)"><rect x="-13.5" y="-6.5" width="27" height="13"/><text y="2">Fiestas</text></g>
<g id="n026" class="n lb" transform="translate(676,135)"><rect x="-15" y="-6.5" width="30" height="13"/><text y="2">Rituales</text></g>
<g id="n027" class="n lb" transform="translate(762,134)"><rect x="-15" y="-6.5" width="30" height="13"/><text y="2">Artistas</text></g>
<g id="n028" class="n lb" transform="translate(883,133)"><rect x="-29.5" y="-6.5" width="59" height="13"/><text y="2">Casa de la cultura</text></g>
<g id="n029" class="n lb" transform="translate(947,138)"><rect x="-10.5" y="-6.5" width="21" height="13"/><text y="2">Mural</text></g>
<g id="n030" class="n lb" transform="translate(612,142)"><rect x="-34" y="-6.5" width="68" height="13"/><text y="2">Atractivo tradicional</text></g>
<g id="n031" class="n lb" transform="translate(652,157)"><rect x="-15" y="-6.5" width="30" height="13"/><text y="2">Historia</text></g>
<g id="n032" class="n lb" transform="translate(760,157)"><rect x="-32.5" y="-6.5" width="65" height="13"/><text y="2">Prácticas culturales</text></g>
<g id="n033" class="n lb" transform="translate(937,162)"><rect x="-25" y="-6.5" width="50" height="13"/><text y="2">Centro cultural</text></g>
<g id="n034" class="n lb" transform="translate(522,163)"><rect x="-16.5" y="-6.5" width="33" height="13"/><text y="2">Identidad</text></g>
<g id="n035" class="n lb" transform="translate(592,175)"><rect x="-16.5" y="-6.5" width="33" height="13"/><text y="2">Artesanía</text></g>
<g id="n036" class="n lb" transform="translate(715,178)"><rect x="-71" y="-6.5" width="142" height="13"/><text y="2">Cuentos y mitos relacionados con la naturaleza</text></g>
<g id="n037" class="n lb" transform="translate(832,174)"><rect x="-20.5" y="-6.5" width="41" height="13"/><text y="2">Paseo urbano</text></g>
<g id="n038" class="n lb" transform="translate(876,173)"><rect x="-10.5" y="-6.5" width="21" height="13"/><text y="2">Museo</text></g>
<g id="n039" class="n lb" transform="translate(977,183)"><rect x="-59" y="-6.5" width="118" height="13"/><text y="2">Centro de convenciones y exposiciones</text></g>
<g id="n040" class="n lb" transform="translate(688,194)"><rect x="-15" y="-6.5" width="30" height="13"/><text y="2">Leyendas</text></g>
<g id="n041" class="n lb" transform="translate(577,199)"><rect x="-13.5" y="-6.5" width="27" height="13"/><text y="2">Cuentos</text></g>
<g id="n042" class="n lb" transform="translate(795,200)"><rect x="-29.5" y="-6.5" width="59" height="13"/><text y="2">Plan de desarrollo</text></g>
<g id="n043" class="n lb" transform="translate(885,197)"><rect x="-28" y="-6.5" width="56" height="13"/><text y="2">Espacios de apoyo</text></g>
<g id="n044" class="n lb" transform="translate(957,211)"><rect x="-16.5" y="-6.5" width="33" height="13"/><text y="2">Desempeño</text></g>
<g id="n045" class="n lb" transform="translate(788,223)"><rect x="-29.5" y="-6.5" width="59" height="13"/><text y="2">Prácticas sociales</text></g>
<g id="n046" class="n lb" transform="translate(862,222)"><rect x="-22" y="-6.5" width="44" height="13"/><text y="2">Bien inmueble</text></g>
<g id="n047" class="n lb" transform="translate(930,234)"><rect x="-13.5" y="-6.5" width="27" height="13"/><text y="2">Usuario</text></g>
<g id="n048" class="n lb" transform="translate(657,245)"><rect x="-19" y="-6.5" width="38" height="13"/><text y="2">Gastronomía</text></g>
<g id="n049" class="n lb" transform="translate(727,263)"><rect x="-34" y="-6.5" width="68" height="13"/><text y="2">Esculturas y pinturas</text></g>
<g id="n050" class="n lb" transform="translate(833,247)"><rect x="-31" y="-6.5" width="62" height="13"/><text y="2">Patrimonio material</text></g>
<g id="n051" class="n lb" transform="translate(898,261)"><rect x="-20.5" y="-6.5" width="41" height="13"/><text y="2">Música local</text></g>
<g id="n052" class="n lb" transform="translate(823,283)"><rect x="-34" y="-6.5" width="68" height="13"/><text y="2">Patrimonio inmaterial</text></g>
<g id="n053" class="n lb" transform="translate(897,282)"><rect x="-25" y="-6.5" width="50" height="13"/><text y="2">Obras de teatro</text></g>
<g id="n054" class="n lb" transform="translate(805,313)"><rect x="-31" y="-6.5" width="62" height="13"/><text y="2">Área del Expediente</text></g>
<g id="n055" class="n lb" transform="translate(893,307)"><rect x="-15" y="-6.5" width="30" height="13"/><text y="2">Carteles</text></g>
<g id="n056" class="n lb" transform="translate(758,343)"><rect x="-20.5" y="-6.5" width="41" height="13"/><text y="2">Festividades</text></g>
<g id="n057" class="n lb" transform="translate(802,350)"><rect x="-10.5" y="-6.5" width="21" height="13"/><text y="2">Etnia</text></g>
<g id="n058" class="n lb" transform="translate(908,363)"><rect x="-28" y="-6.5" width="56" height="13"/><text y="2">Multiculturalidad</text></g>
<g id="n059" class="n lb" transform="translate(868,445)"><rect x="-31" y="-6.5" width="62" height="13"/><text y="2">Diversidad cultural</text></g>
<g id="n060" class="n lb" transform="translate(1043,393)"><rect x="-10.5" y="-6.5" width="21" height="13"/><text y="2">Rural</text></g>
<g id="n061" class="n lb" transform="translate(1048,10)"><rect x="-13.5" y="-6.5" width="27" height="13"/><text y="2">Bordado</text></g>
<g id="n062" class="n lb b" transform="translate(857,335)"><rect x="-15" y="-6.5" width="30" height="13"/><text y="2">Cultura</text></g>
<g id="n063" class="n cy" transform="translate(957,327)"><rect x="-29" y="-6.5" width="58" height="13"/><text y="2">Destino turístico</text></g>
<g id="n070" class="n lb" transform="translate(89,415)"><rect x="-26.5" y="-6.5" width="53" height="13"/><text y="2">Seguridad social</text></g>
<g id="n071" class="n lb" transform="translate(181,413)"><rect x="-34" y="-6.5" width="68" height="13"/><text y="2">Información turística</text></g>
<g id="n072" class="n lb" transform="translate(261,427)"><rect x="-31" y="-6.5" width="62" height="13"/><text y="2">Formación artística</text></g>
<g id="n073" class="n lb" transform="translate(199,451)"><rect x="-72.5" y="-6.5" width="145" height="13"/><text y="2">De protección a la comunidad y bienestar social</text></g>
<g id="n074" class="n lb" transform="translate(82,458)"><rect x="-18" y="-6.5" width="36" height="13"/><text y="2">Biblioteca</text></g>
<g id="n075" class="n lb" transform="translate(113,478)"><rect x="-12" y="-6.5" width="24" height="13"/><text y="2">Limpia</text></g>
<g id="n076" class="n lb" transform="translate(143,495)"><rect x="-20.5" y="-6.5" width="41" height="13"/><text y="2">Agua potable</text></g>
<g id="n077" class="n lb" transform="translate(71,514)"><rect x="-28" y="-6.5" width="56" height="13"/><text y="2">Alumbrado público</text></g>
<g id="n078" class="n lb" transform="translate(206,513)"><rect x="-23.5" y="-6.5" width="47" height="13"/><text y="2">Alcantarillado</text></g>
<g id="n079" class="n lb" transform="translate(274,519)"><rect x="-13.5" y="-6.5" width="27" height="13"/><text y="2">Drenaje</text></g>
<g id="n080" class="n lb" transform="translate(143,533)"><rect x="-13.5" y="-6.5" width="27" height="13"/><text y="2">Básicos</text></g>
<g id="n081" class="n lb" transform="translate(199,534)"><rect x="-34" y="-6.5" width="68" height="13"/><text y="2">Recolección de basura</text></g>
<g id="n082" class="n lb" transform="translate(98,555)"><rect x="-19" y="-6.5" width="38" height="13"/><text y="2">Iluminación</text></g>
<g id="n083" class="n lb b" transform="translate(396,514)"><rect x="-32" y="-6.5" width="64" height="13"/><text y="2">Servicios Públicos</text></g>
<g id="n084" class="n lb" transform="translate(190,567)"><rect x="-16.5" y="-6.5" width="33" height="13"/><text y="2">Municipio</text></g>
<g id="n085" class="n lb" transform="translate(335,554)"><rect x="-25" y="-6.5" width="50" height="13"/><text y="2">Policía montada</text></g>
<g id="n086" class="n lb" transform="translate(319,577)"><rect x="-32.5" y="-6.5" width="65" height="13"/><text y="2">Cuerpos de seguridad</text></g>
<g id="n087" class="n lb" transform="translate(243,591)"><rect x="-20.5" y="-6.5" width="41" height="13"/><text y="2">De seguridad</text></g>
<g id="n088" class="n lb" transform="translate(305,603)"><rect x="-28" y="-6.5" width="56" height="13"/><text y="2">Policía turística</text></g>
<g id="n089" class="n lb" transform="translate(263,620)"><rect x="-32.5" y="-6.5" width="65" height="13"/><text y="2">Cámaras de seguridad</text></g>
<g id="n090" class="n lb" transform="translate(353,631)"><rect x="-32.5" y="-6.5" width="65" height="13"/><text y="2">Policía en bicicleta</text></g>
<g id="n091" class="n lb" transform="translate(27,567)"><rect x="-13.5" y="-6.5" width="27" height="13"/><text y="2">Autobús</text></g>
<g id="n092" class="n lb" transform="translate(76,588)"><rect x="-29.5" y="-6.5" width="59" height="13"/><text y="2">Transporte público</text></g>
<g id="n093" class="n lb" transform="translate(124,612)"><rect x="-37" y="-6.5" width="74" height="13"/><text y="2">Básicos complementarios</text></g>
<g id="n094" class="n lb" transform="translate(23,615)"><rect x="-15" y="-6.5" width="30" height="13"/><text y="2">Motobici</text></g>
<g id="n095" class="n lb" transform="translate(53,635)"><rect x="-9" y="-6.5" width="18" height="13"/><text y="2">Taxi</text></g>
<g id="n096" class="n lb" transform="translate(113,645)"><rect x="-26.5" y="-6.5" width="53" height="13"/><text y="2">Transporte local</text></g>
<g id="n097" class="n lb" transform="translate(193,642)"><rect x="-32.5" y="-6.5" width="65" height="13"/><text y="2">Transporte turístico</text></g>
<g id="n098" class="n lb" transform="translate(155,666)"><rect x="-16.5" y="-6.5" width="33" height="13"/><text y="2">Calandria</text></g>
<g id="n099" class="n lb" transform="translate(225,666)"><rect x="-13.5" y="-6.5" width="27" height="13"/><text y="2">Tranvía</text></g>
<g id="n100" class="n lb" transform="translate(27,669)"><rect x="-15" y="-6.5" width="30" height="13"/><text y="2">Bicitaxi</text></g>
<g id="n101" class="n lb" transform="translate(85,689)"><rect x="-9" y="-6.5" width="18" height="13"/><text y="2">Uber</text></g>
<g id="n102" class="n lb" transform="translate(280,653)"><rect x="-20.5" y="-6.5" width="41" height="13"/><text y="2">Señalamiento</text></g>
<g id="n103" class="n lb" transform="translate(350,660)"><rect x="-35.5" y="-6.5" width="71" height="13"/><text y="2">Equipamiento turístico</text></g>
<g id="n104" class="n lb" transform="translate(263,683)"><rect x="-25" y="-6.5" width="50" height="13"/><text y="2">Estacionamiento</text></g>
<g id="n105" class="n lb" transform="translate(310,700)"><rect x="-29.5" y="-6.5" width="59" height="13"/><text y="2">Tránsito vehicular</text></g>
<g id="n106" class="n lb" transform="translate(156,694)"><rect x="-35.5" y="-6.5" width="71" height="13"/><text y="2">Nomenclatura de calles</text></g>
<g id="n107" class="n lb" transform="translate(215,696)"><rect x="-10.5" y="-6.5" width="21" height="13"/><text y="2">Banca</text></g>
<g id="n108" class="n lb" transform="translate(248,710)"><rect x="-10.5" y="-6.5" width="21" height="13"/><text y="2">Baños</text></g>
<g id="n109" class="n lb" transform="translate(360,717)"><rect x="-28" y="-6.5" width="56" height="13"/><text y="2">Tránsito peatonal</text></g>
<g id="n110" class="n lb" transform="translate(177,717)"><rect x="-22" y="-6.5" width="44" height="13"/><text y="2">Bici de renta</text></g>
<g id="n111" class="n lb" transform="translate(130,727)"><rect x="-15" y="-6.5" width="30" height="13"/><text y="2">Banqueta</text></g>
<g id="n112" class="n lb" transform="translate(69,735)"><rect x="-18" y="-6.5" width="36" height="13"/><text y="2">Guarnición</text></g>
<g id="n113" class="n lb b" transform="translate(402,737)"><rect x="-27" y="-6.5" width="54" height="13"/><text y="2">Infraestructura</text></g>
<g id="n114" class="n lb" transform="translate(475,620)"><rect x="-16.5" y="-6.5" width="33" height="13"/><text y="2">Sanitario</text></g>
<g id="n115" class="n lb" transform="translate(487,651)"><rect x="-15" y="-6.5" width="30" height="13"/><text y="2">Vialidad</text></g>
<g id="n116" class="n lb" transform="translate(482,724)"><rect x="-12" y="-6.5" width="24" height="13"/><text y="2">Muelle</text></g>
<g id="n117" class="n lb" transform="translate(214,742)"><rect x="-28" y="-6.5" width="56" height="13"/><text y="2">Mobiliario urbano</text></g>
<g id="n118" class="n lb" transform="translate(282,739)"><rect x="-16.5" y="-6.5" width="33" height="13"/><text y="2">Gimnasios</text></g>
<g id="n119" class="n lb" transform="translate(322,741)"><rect x="-9" y="-6.5" width="18" height="13"/><text y="2">Cine</text></g>
<g id="n120" class="n lb" transform="translate(135,751)"><rect x="-15" y="-6.5" width="30" height="13"/><text y="2">Mercados</text></g>
<g id="n121" class="n lb" transform="translate(97,764)"><rect x="-18" y="-6.5" width="36" height="13"/><text y="2">Sanitarios</text></g>
<g id="n122" class="n lb" transform="translate(166,766)"><rect x="-15" y="-6.5" width="30" height="13"/><text y="2">Cableado</text></g>
<g id="n123" class="n lb" transform="translate(232,774)"><rect x="-31" y="-6.5" width="62" height="13"/><text y="2">Equipamiento urbano</text></g>
<g id="n124" class="n lb" transform="translate(303,778)"><rect x="-12" y="-6.5" width="24" height="13"/><text y="2">Kiosco</text></g>
<g id="n125" class="n lb" transform="translate(103,791)"><rect x="-16.5" y="-6.5" width="33" height="13"/><text y="2">Comercial</text></g>
<g id="n126" class="n lb" transform="translate(146,796)"><rect x="-10.5" y="-6.5" width="21" height="13"/><text y="2">Plaza</text></g>
<g id="n127" class="n lb" transform="translate(298,797)"><rect x="-18" y="-6.5" width="36" height="13"/><text y="2">Área verde</text></g>
<g id="n128" class="n lb" transform="translate(114,824)"><rect x="-12" y="-6.5" width="24" height="13"/><text y="2">Centro</text></g>
<g id="n129" class="n lb" transform="translate(216,813)"><rect x="-10.5" y="-6.5" width="21" height="13"/><text y="2">Museo</text></g>
<g id="n130" class="n lb" transform="translate(189,832)"><rect x="-37" y="-6.5" width="74" height="13"/><text y="2">Infraestructura de agua</text></g>
<g id="n131" class="n lb" transform="translate(259,834)"><rect x="-12" y="-6.5" width="24" height="13"/><text y="2">Jardín</text></g>
<g id="n132" class="n lb" transform="translate(126,853)"><rect x="-41.5" y="-6.5" width="83" height="13"/><text y="2">Infraestructura de drenaje</text></g>
<g id="n133" class="n lb" transform="translate(201,863)"><rect x="-12" y="-6.5" width="24" height="13"/><text y="2">Fuente</text></g>
<g id="n134" class="n lb" transform="translate(283,857)"><rect x="-29.5" y="-6.5" width="59" height="13"/><text y="2">Espacio recreativo</text></g>
<g id="n135" class="n lb" transform="translate(234,881)"><rect x="-12" y="-6.5" width="24" height="13"/><text y="2">Parque</text></g>
<g id="n136" class="n lb" transform="translate(288,887)"><rect x="-13.5" y="-6.5" width="27" height="13"/><text y="2">Panteón</text></g>
<g id="n137" class="n lb" transform="translate(205,898)"><rect x="-15" y="-6.5" width="30" height="13"/><text y="2">Temático</text></g>
<g id="n138" class="n lb" transform="translate(252,912)"><rect x="-23.5" y="-6.5" width="47" height="13"/><text y="2">De diversiones</text></g>
<g id="n139" class="n lb" transform="translate(395,812)"><rect x="-23.5" y="-6.5" width="47" height="13"/><text y="2">Comunicaciones</text></g>
<g id="n140" class="n lb" transform="translate(467,818)"><rect x="-26.5" y="-6.5" width="53" height="13"/><text y="2">Señal de celular</text></g>
<g id="n141" class="n lb" transform="translate(321,836)"><rect x="-28" y="-6.5" width="56" height="13"/><text y="2">Estación de radio</text></g>
<g id="n142" class="n lb" transform="translate(344,853)"><rect x="-23.5" y="-6.5" width="47" height="13"/><text y="2">Estación de TV</text></g>
<g id="n143" class="n lb" transform="translate(353,873)"><rect x="-28" y="-6.5" width="56" height="13"/><text y="2">Enlace señal WiFi</text></g>
<g id="n144" class="n lb" transform="translate(469,896)"><rect x="-37" y="-6.5" width="74" height="13"/><text y="2">Tarjeta de autoservicio</text></g>
<g id="n145" class="n lb" transform="translate(532,896)"><rect x="-18" y="-6.5" width="36" height="13"/><text y="2">Productiva</text></g>
<g id="n146" class="n lb" transform="translate(444,933)"><rect x="-20.5" y="-6.5" width="41" height="13"/><text y="2">Supermercado</text></g>
<g id="n147" class="n lb" transform="translate(445,956)"><rect x="-72.5" y="-6.5" width="145" height="13"/><text y="2">Tecnologías de la Información y la Comunicación</text></g>
<g id="n148" class="n lb" transform="translate(487,763)"><rect x="-31" y="-6.5" width="62" height="13"/><text y="2">Terminal de autobús</text></g>
<g id="n149" class="n lb" transform="translate(556,768)"><rect x="-18" y="-6.5" width="36" height="13"/><text y="2">Aeropuerto</text></g>
<g id="n150" class="n lb" transform="translate(513,795)"><rect x="-10.5" y="-6.5" width="21" height="13"/><text y="2">Local</text></g>
<g id="n151" class="n lb" transform="translate(573,800)"><rect x="-22" y="-6.5" width="44" height="13"/><text y="2">Internacional</text></g>
<g id="n152" class="n lb" transform="translate(557,837)"><rect x="-10.5" y="-6.5" width="21" height="13"/><text y="2">Banco</text></g>
<g id="n153" class="n lb" transform="translate(538,869)"><rect x="-15" y="-6.5" width="30" height="13"/><text y="2">Farmacia</text></g>
<g id="n154" class="n lb" transform="translate(627,895)"><rect x="-23.5" y="-6.5" width="47" height="13"/><text y="2">Casa de cambio</text></g>
<g id="n155" class="n lb" transform="translate(517,926)"><rect x="-26.5" y="-6.5" width="53" height="13"/><text y="2">Centro comercial</text></g>
<g id="n156" class="n lb" transform="translate(595,928)"><rect x="-13.5" y="-6.5" width="27" height="13"/><text y="2">Clínica</text></g>
<g id="n157" class="n lb" transform="translate(600,951)"><rect x="-28" y="-6.5" width="56" height="13"/><text y="2">Cajero automático</text></g>
<g id="n158" class="n lb" transform="translate(564,972)"><rect x="-15" y="-6.5" width="30" height="13"/><text y="2">Hospital</text></g>
<g id="n159" class="n lb" transform="translate(513,593)"><rect x="-9" y="-6.5" width="18" height="13"/><text y="2">Café</text></g>
<g id="n160" class="n lb" transform="translate(520,624)"><rect x="-10.5" y="-6.5" width="21" height="13"/><text y="2">Cuota</text></g>
<g id="n161" class="n lb" transform="translate(563,645)"><rect x="-10.5" y="-6.5" width="21" height="13"/><text y="2">Línea</text></g>
<g id="n162" class="n lb" transform="translate(648,633)"><rect x="-15" y="-6.5" width="30" height="13"/><text y="2">Paradero</text></g>
<g id="n163" class="n lb" transform="translate(548,677)"><rect x="-18" y="-6.5" width="36" height="13"/><text y="2">Carreteras</text></g>
<g id="n164" class="n lb" transform="translate(602,665)"><rect x="-18" y="-6.5" width="36" height="13"/><text y="2">Vía férrea</text></g>
<g id="n165" class="n lb" transform="translate(512,694)"><rect x="-12" y="-6.5" width="24" height="13"/><text y="2">Acceso</text></g>
<g id="n166" class="n lb" transform="translate(561,704)"><rect x="-12" y="-6.5" width="24" height="13"/><text y="2">Puerto</text></g>
<g id="n170" class="n lb" transform="translate(842,997)"><rect x="-34" y="-6.5" width="68" height="13"/><text y="2">Proyecto de inversión</text></g>
<g id="n171" class="n lb" transform="translate(723,1015)"><rect x="-53" y="-6.5" width="106" height="13"/><text y="2">Evaluación del patrimonio cultural</text></g>
<g id="n172" class="n lb" transform="translate(837,1032)"><rect x="-53" y="-6.5" width="106" height="13"/><text y="2">Evaluación del desempeño turístico</text></g>
<g id="n173" class="n lb" transform="translate(834,1058)"><rect x="-35.5" y="-6.5" width="71" height="13"/><text y="2">Aprobación de subsidio</text></g>
<g id="n174" class="n lb" transform="translate(917,1051)"><rect x="-19" y="-6.5" width="38" height="13"/><text y="2">Permanencia</text></g>
<g id="n175" class="n lb" transform="translate(918,1084)"><rect x="-37" y="-6.5" width="74" height="13"/><text y="2">Evaluación presupuestal</text></g>
<g id="n176" class="n lb" transform="translate(1015,1061)"><rect x="-47.5" y="-6.5" width="95" height="13"/><text y="2">Oficio de ingreso presupuestal</text></g>
<g id="n177" class="n lb" transform="translate(1075,1082)"><rect x="-38.5" y="-6.5" width="77" height="13"/><text y="2">Programa de capacitación</text></g>
<g id="n178" class="n lb" transform="translate(1074,1036)"><rect x="-29.5" y="-6.5" width="59" height="13"/><text y="2">Expediente técnico</text></g>
<g id="n179" class="n lb" transform="translate(1121,1061)"><rect x="-23.5" y="-6.5" width="47" height="13"/><text y="2">Visita técnica</text></g>
<g id="n180" class="n lb" transform="translate(1122,985)"><rect x="-37" y="-6.5" width="74" height="13"/><text y="2">Plan Nal. de Desarrollo</text></g>
<g id="n181" class="n lb" transform="translate(1118,1006)"><rect x="-19" y="-6.5" width="38" height="13"/><text y="2">Presupuesto</text></g>
<g id="n182" class="n lb" transform="translate(1086,944)"><rect x="-54.5" y="-6.5" width="109" height="13"/><text y="2">Programa Especial de Cultura y Arte</text></g>
<g id="n183" class="n lb" transform="translate(1185,936)"><rect x="-24" y="-6.5" width="48" height="13"/><text y="2">PRODERMAGICO</text></g>
<g id="n184" class="n lb" transform="translate(1100,913)"><rect x="-44.5" y="-6.5" width="89" height="13"/><text y="2">Programa Regional de Turismo</text></g>
<g id="n185" class="n lb" transform="translate(1164,883)"><rect x="-13.5" y="-6.5" width="27" height="13"/><text y="2">Federal</text></g>
<g id="n186" class="n lb" transform="translate(1203,860)"><rect x="-34" y="-6.5" width="68" height="13"/><text y="2">Constitución política</text></g>
<g id="n187" class="n lb" transform="translate(1148,839)"><rect x="-35.5" y="-6.5" width="71" height="13"/><text y="2">Ley Federal de turismo</text></g>
<g id="n188" class="n lb" transform="translate(1211,832)"><rect x="-19" y="-6.5" width="38" height="13"/><text y="2">Reglamentos</text></g>
<g id="n189" class="n lb" transform="translate(1139,807)"><rect x="-32.5" y="-6.5" width="65" height="13"/><text y="2">Plan de ordenamiento</text></g>
<g id="n190" class="n lb" transform="translate(1198,802)"><rect x="-15" y="-6.5" width="30" height="13"/><text y="2">Jurídico</text></g>
<g id="n191" class="n lb" transform="translate(1221,774)"><rect x="-20.5" y="-6.5" width="41" height="13"/><text y="2">Construcción</text></g>
<g id="n192" class="n lb" transform="translate(1168,759)"><rect x="-29.5" y="-6.5" width="59" height="13"/><text y="2">Programa sectorial</text></g>
<g id="n193" class="n lb" transform="translate(1275,746)"><rect x="-12" y="-6.5" width="24" height="13"/><text y="2">Nuevos</text></g>
<g id="n194" class="n lb b" transform="translate(1397,746)"><rect x="-28" y="-6.5" width="56" height="13"/><text y="2">Superestructura</text></g>
<g id="n195" class="n lb" transform="translate(1366,765)"><rect x="-53" y="-6.5" width="106" height="13"/><text y="2">Cartas y convenios internacionales</text></g>
<g id="n196" class="n lb" transform="translate(1315,782)"><rect x="-31" y="-6.5" width="62" height="13"/><text y="2">De derecho cultural</text></g>
<g id="n197" class="n lb" transform="translate(1300,806)"><rect x="-16.5" y="-6.5" width="33" height="13"/><text y="2">Agenda 21</text></g>
<g id="n198" class="n lb" transform="translate(1393,808)"><rect x="-31" y="-6.5" width="62" height="13"/><text y="2">Cámara de senadores</text></g>
<g id="n199" class="n lb" transform="translate(1460,805)"><rect x="-31" y="-6.5" width="62" height="13"/><text y="2">Cámara de diputados</text></g>
<g id="n200" class="n lb" transform="translate(1337,834)"><rect x="-32.5" y="-6.5" width="65" height="13"/><text y="2">Información nacional</text></g>
<g id="n201" class="n lb" transform="translate(1453,826)"><rect x="-32.5" y="-6.5" width="65" height="13"/><text y="2">Gobierno legislativo</text></g>
<g id="n202" class="n lb" transform="translate(1282,863)"><rect x="-16.5" y="-6.5" width="33" height="13"/><text y="2">Municipal</text></g>
<g id="n203" class="n lb" transform="translate(1350,866)"><rect x="-10.5" y="-6.5" width="21" height="13"/><text y="2">INEGI</text></g>
<g id="n204" class="n lb" transform="translate(1402,848)"><rect x="-16.5" y="-6.5" width="33" height="13"/><text y="2">Ejecutivo</text></g>
<g id="n205" class="n lb" transform="translate(1443,874)"><rect x="-29.5" y="-6.5" width="59" height="13"/><text y="2">Gobierno ejecutivo</text></g>
<g id="n206" class="n lb" transform="translate(1240,892)"><rect x="-41.5" y="-6.5" width="83" height="13"/><text y="2">Reglamento de uso de suelo</text></g>
<g id="n207" class="n lb" transform="translate(1369,894)"><rect x="-13" y="-6.5" width="26" height="13"/><text y="2">SECTUR</text></g>
<g id="n208" class="n lb" transform="translate(1338,911)"><rect x="-50" y="-6.5" width="100" height="13"/><text y="2">Subsecretaría de Infraestructura</text></g>
<g id="n209" class="n lb" transform="translate(1425,914)"><rect x="-26.5" y="-6.5" width="53" height="13"/><text y="2">Gobierno federal</text></g>
<g id="n210" class="n lb" transform="translate(1266,937)"><rect x="-43" y="-6.5" width="86" height="13"/><text y="2">Reglamento de imagen urbana</text></g>
<g id="n211" class="n lb" transform="translate(1376,937)"><rect x="-57.5" y="-6.5" width="115" height="13"/><text y="2">Subsecretaría de Planeación Turística</text></g>
<g id="n212" class="n lb" transform="translate(1297,959)"><rect x="-12" y="-6.5" width="24" height="13"/><text y="2">CDPM</text></g>
<g id="n213" class="n lb" transform="translate(1330,959)"><rect x="-16" y="-6.5" width="32" height="13"/><text y="2">COPLADE</text></g>
<g id="n214" class="n lb" transform="translate(1400,959)"><rect x="-9" y="-6.5" width="18" height="13"/><text y="2">SE</text></g>
<g id="n215" class="n lb" transform="translate(1446,952)"><rect x="-10" y="-6.5" width="20" height="13"/><text y="2">SEP</text></g>
<g id="n216" class="n lb" transform="translate(1468,988)"><rect x="-10" y="-6.5" width="20" height="13"/><text y="2">SCT</text></g>
<g id="n217" class="n lb" transform="translate(1427,985)"><rect x="-14" y="-6.5" width="28" height="13"/><text y="2">SEMAR</text></g>
<g id="n218" class="n lb" transform="translate(1388,1013)"><rect x="-12" y="-6.5" width="24" height="13"/><text y="2">INBA</text></g>
<g id="n219" class="n lb" transform="translate(1441,1013)"><rect x="-12" y="-6.5" width="24" height="13"/><text y="2">INAH</text></g>
<g id="n220" class="n lb" transform="translate(1308,998)"><rect x="-47.5" y="-6.5" width="95" height="13"/><text y="2">Grupo de evaluac. y seguim. PM</text></g>
<g id="n221" class="n lb" transform="translate(1235,1020)"><rect x="-62" y="-6.5" width="124" height="13"/><text y="2">Plan de desarrollo turístico sustentable</text></g>
<g id="n222" class="n lb" transform="translate(1324,1042)"><rect x="-40" y="-6.5" width="80" height="13"/><text y="2">Agencia de competitividad</text></g>
<g id="n223" class="n lb" transform="translate(1430,1048)"><rect x="-46" y="-6.5" width="92" height="13"/><text y="2">Reconocimiento del patrimonio</text></g>
<g id="n224" class="n lb" transform="translate(1212,1050)"><rect x="-53" y="-6.5" width="106" height="13"/><text y="2">Plan municipal de protección civil</text></g>
<g id="n225" class="n lb" transform="translate(1212,1072)"><rect x="-54.5" y="-6.5" width="109" height="13"/><text y="2">Plan de desarrollo urbano municipal</text></g>
<g id="n226" class="n lb" transform="translate(1348,1078)"><rect x="-31" y="-6.5" width="62" height="13"/><text y="2">Patrimonio Nacional</text></g>
<g id="n227" class="n lb" transform="translate(1453,1076)"><rect x="-15" y="-6.5" width="30" height="13"/><text y="2">CONAGUA</text></g>
<g id="n228" class="n lb" transform="translate(1473,777)"><rect x="-31" y="-6.5" width="62" height="13"/><text y="2">Equipamiento urbano</text></g>
<g id="n230" class="n lb" transform="translate(1535,744)"><rect x="-22" y="-6.5" width="44" height="13"/><text y="2">Instituciones</text></g>
<g id="n231" class="n lb" transform="translate(1653,745)"><rect x="-15" y="-6.5" width="30" height="13"/><text y="2">Nacional</text></g>
<g id="n232" class="n lb" transform="translate(1798,738)"><rect x="-44.5" y="-6.5" width="89" height="13"/><text y="2">Asociación de transportistas</text></g>
<g id="n233" class="n lb" transform="translate(1745,758)"><rect x="-37" y="-6.5" width="74" height="13"/><text y="2">Asociación de hoteleros</text></g>
<g id="n234" class="n lb" transform="translate(1610,775)"><rect x="-29.5" y="-6.5" width="59" height="13"/><text y="2">No gubernamentales</text></g>
<g id="n235" class="n lb" transform="translate(1720,781)"><rect x="-35.5" y="-6.5" width="71" height="13"/><text y="2">Asociación empresarial</text></g>
<g id="n236" class="n lb" transform="translate(1801,777)"><rect x="-35.5" y="-6.5" width="71" height="13"/><text y="2">Asociación de comercio</text></g>
<g id="n237" class="n lb" transform="translate(1747,807)"><rect x="-35.5" y="-6.5" width="71" height="13"/><text y="2">Asociación de agencias</text></g>
<g id="n238" class="n lb" transform="translate(1857,814)"><rect x="-44.5" y="-6.5" width="89" height="13"/><text y="2">Asociación de restauranteros</text></g>
<g id="n239" class="n lb" transform="translate(1796,837)"><rect x="-38.5" y="-6.5" width="77" height="13"/><text y="2">Asociación de locatarios</text></g>
<g id="n240" class="n lb" transform="translate(1542,823)"><rect x="-25" y="-6.5" width="50" height="13"/><text y="2">Gubernamentales</text></g>
<g id="n241" class="n lb" transform="translate(1651,820)"><rect x="-22" y="-6.5" width="44" height="13"/><text y="2">Internacional</text></g>
<g id="n242" class="n lb" transform="translate(1705,841)"><rect x="-10" y="-6.5" width="20" height="13"/><text y="2">ONU</text></g>
<g id="n243" class="n lb" transform="translate(1604,857)"><rect x="-16.5" y="-6.5" width="33" height="13"/><text y="2">Municipal</text></g>
<g id="n244" class="n lb" transform="translate(1669,866)"><rect x="-11" y="-6.5" width="22" height="13"/><text y="2">CNDH</text></g>
<g id="n245" class="n lb" transform="translate(1707,873)"><rect x="-10" y="-6.5" width="20" height="13"/><text y="2">OMT</text></g>
<g id="n246" class="n lb" transform="translate(1775,862)"><rect x="-15" y="-6.5" width="30" height="13"/><text y="2">UNESCO</text></g>
<g id="n247" class="n lb" transform="translate(1767,892)"><rect x="-15" y="-6.5" width="30" height="13"/><text y="2">ICOMOS</text></g>
<g id="n248" class="n lb" transform="translate(1541,877)"><rect x="-13.5" y="-6.5" width="27" height="13"/><text y="2">Estatal</text></g>
<g id="n249" class="n lb" transform="translate(1624,882)"><rect x="-20.5" y="-6.5" width="41" height="13"/><text y="2">Ayuntamiento</text></g>
<g id="n250" class="n lb" transform="translate(1725,918)"><rect x="-32.5" y="-6.5" width="65" height="13"/><text y="2">Dirección de Cultura</text></g>
<g id="n251" class="n lb" transform="translate(1650,919)"><rect x="-32.5" y="-6.5" width="65" height="13"/><text y="2">Dirección de Turismo</text></g>
<g id="n252" class="n lb" transform="translate(1704,953)"><rect x="-34" y="-6.5" width="68" height="13"/><text y="2">Dirección de economía</text></g>
<g id="n253" class="n lb" transform="translate(1628,969)"><rect x="-37" y="-6.5" width="74" height="13"/><text y="2">Dirección de planeación</text></g>
<g id="n254" class="n lb" transform="translate(1598,998)"><rect x="-22" y="-6.5" width="44" height="13"/><text y="2">Consejo local</text></g>
<g id="n255" class="n lb" transform="translate(1539,967)"><rect x="-26.5" y="-6.5" width="53" height="13"/><text y="2">Gobierno estatal</text></g>
<g id="n256" class="n lb" transform="translate(1527,988)"><rect x="-28" y="-6.5" width="56" height="13"/><text y="2">Srría. de Cultura</text></g>
<g id="n257" class="n lb" transform="translate(1541,1010)"><rect x="-28" y="-6.5" width="56" height="13"/><text y="2">Srría. de turismo</text></g>
<g id="n258" class="n lb" transform="translate(1585,1032)"><rect x="-31" y="-6.5" width="62" height="13"/><text y="2">Srría. de seguridad</text></g>
<g id="n259" class="n lb" transform="translate(1582,1049)"><rect x="-32.5" y="-6.5" width="65" height="13"/><text y="2">Dirección de turismo</text></g>
<g id="n260" class="n lb" transform="translate(1525,945)"><rect x="-32.5" y="-6.5" width="65" height="13"/><text y="2">Comité de planeación</text></g>
<g id="n261" class="n lb" transform="translate(1487,967)"><rect x="-12" y="-6.5" width="24" height="13"/><text y="2">SHCP</text></g>
<g id="n262" class="n lb" transform="translate(1489,1010)"><rect x="-11" y="-6.5" width="22" height="13"/><text y="2">STPS</text></g>
<g id="n263" class="n lb" transform="translate(1653,701)"><rect x="-26.5" y="-6.5" width="53" height="13"/><text y="2">Comité ciudadano</text></g>
<g id="n264" class="n lb" transform="translate(1764,705)"><rect x="-31" y="-6.5" width="62" height="13"/><text y="2">Sociedad de cultura</text></g>
<g id="n265" class="n lb" transform="translate(1595,726)"><rect x="-35.5" y="-6.5" width="71" height="13"/><text y="2">Comité Pueblos Mágicos</text></g>
<g id="n266" class="n lb" transform="translate(1690,723)"><rect x="-26.5" y="-6.5" width="53" height="13"/><text y="2">Asociación civil</text></g>
<g id="o01" class="n or" transform="translate(514,197)"><rect x="-28" y="-6.5" width="56" height="13"/><text y="2">Cultura turística</text></g>
<g id="o02" class="n or" transform="translate(451,221)"><rect x="-26.5" y="-6.5" width="53" height="13"/><text y="2">Con identidad de</text></g>
<g id="o03" class="n or" transform="translate(600,226)"><rect x="-29.5" y="-6.5" width="59" height="13"/><text y="2">Ámbito territorial</text></g>
<g id="o04" class="n or" transform="translate(356,263)"><rect x="-22" y="-6.5" width="44" height="13"/><text y="2">Empleo formal</text></g>
<g id="o05" class="n or" transform="translate(327,281)"><rect x="-25" y="-6.5" width="50" height="13"/><text y="2">Empleo informal</text></g>
<g id="o06" class="n or" transform="translate(535,256)"><rect x="-31" y="-6.5" width="62" height="13"/><text y="2">Protección mexicana</text></g>
<g id="o07" class="n or" transform="translate(615,260)"><rect x="-26.5" y="-6.5" width="53" height="13"/><text y="2">Protección total</text></g>
<g id="o08" class="n or" transform="translate(447,289)"><rect x="-50" y="-6.5" width="100" height="13"/><text y="2">Derechos humanos de los turistas</text></g>
<g id="o09" class="n or" transform="translate(557,287)"><rect x="-29.5" y="-6.5" width="59" height="13"/><text y="2">Grupos vulnerables</text></g>
<g id="o10" class="n or" transform="translate(691,287)"><rect x="-34" y="-6.5" width="68" height="13"/><text y="2">Aspectos demográficos</text></g>
<g id="o11" class="n or" transform="translate(497,304)"><rect x="-9" y="-6.5" width="18" height="13"/><text y="2">PIB</text></g>
<g id="o12" class="n or" transform="translate(619,300)"><rect x="-9" y="-6.5" width="18" height="13"/><text y="2">Edad</text></g>
<g id="o13" class="n or" transform="translate(423,323)"><rect x="-22" y="-6.5" width="44" height="13"/><text y="2">PIB turístico</text></g>
<g id="o14" class="n or" transform="translate(467,329)"><rect x="-9" y="-6.5" width="18" height="13"/><text y="2">PEA</text></g>
<g id="o15" class="n or" transform="translate(547,328)"><rect x="-20.5" y="-6.5" width="41" height="13"/><text y="2">Nivel social</text></g>
<g id="o16" class="n or" transform="translate(668,337)"><rect x="-28" y="-6.5" width="56" height="13"/><text y="2">Aspectos sociales</text></g>
<g id="o17" class="n or" transform="translate(413,343)"><rect x="-34" y="-6.5" width="68" height="13"/><text y="2">Emisiones del turismo</text></g>
<g id="o18" class="n or" transform="translate(322,352)"><rect x="-20.5" y="-6.5" width="41" height="13"/><text y="2">Proyecciones</text></g>
<g id="o19" class="n or" transform="translate(506,342)"><rect x="-10.5" y="-6.5" width="21" height="13"/><text y="2">Clase</text></g>
<g id="o20" class="n or" transform="translate(533,363)"><rect x="-13.5" y="-6.5" width="27" height="13"/><text y="2">Turismo</text></g>
<g id="o21" class="n or" transform="translate(635,362)"><rect x="-37" y="-6.5" width="74" height="13"/><text y="2">Población con movilidad</text></g>
<g id="o22" class="n or" transform="translate(683,385)"><rect x="-32.5" y="-6.5" width="65" height="13"/><text y="2">Necesidades sociales</text></g>
<g id="o23" class="n or b" transform="translate(827,385)"><rect x="-28" y="-6.5" width="56" height="13"/><text y="2">Comunidad local</text></g>
<g id="o24" class="n or" transform="translate(600,394)"><rect x="-29.5" y="-6.5" width="59" height="13"/><text y="2">Población indígena</text></g>
<g id="o25" class="n or" transform="translate(430,388)"><rect x="-16.5" y="-6.5" width="33" height="13"/><text y="2">Ocupación</text></g>
<g id="o26" class="n or" transform="translate(477,387)"><rect x="-19" y="-6.5" width="38" height="13"/><text y="2">Escolaridad</text></g>
<g id="o27" class="n or" transform="translate(345,401)"><rect x="-13.5" y="-6.5" width="27" height="13"/><text y="2">Pobreza</text></g>
<g id="o28" class="n or" transform="translate(732,407)"><rect x="-44.5" y="-6.5" width="89" height="13"/><text y="2">Población con acompañamiento</text></g>
<g id="o29" class="n or" transform="translate(420,414)"><rect x="-20.5" y="-6.5" width="41" height="13"/><text y="2">Alimentación</text></g>
<g id="o30" class="n or" transform="translate(528,432)"><rect x="-23.5" y="-6.5" width="47" height="13"/><text y="2">Discriminación</text></g>
<g id="o31" class="n or" transform="translate(669,430)"><rect x="-19" y="-6.5" width="38" height="13"/><text y="2">Estudiantes</text></g>
<g id="o32" class="n or" transform="translate(745,430)"><rect x="-32.5" y="-6.5" width="65" height="13"/><text y="2">Población en general</text></g>
<g id="o33" class="n or" transform="translate(452,448)"><rect x="-25" y="-6.5" width="50" height="13"/><text y="2">Calidad de vida</text></g>
<g id="o34" class="n or" transform="translate(575,452)"><rect x="-15" y="-6.5" width="30" height="13"/><text y="2">Religión</text></g>
<g id="o35" class="n or" transform="translate(695,466)"><rect x="-41.5" y="-6.5" width="83" height="13"/><text y="2">Población con discapacidad</text></g>
<g id="o36" class="n or" transform="translate(597,479)"><rect x="-29.5" y="-6.5" width="59" height="13"/><text y="2">Orientación sexual</text></g>
<g id="d01" class="n dr" transform="translate(345,475)"><rect x="-30" y="-6.5" width="60" height="13"/><text y="2">Marco normativo</text></g>
<g id="r01" class="n rd" transform="translate(427,563)"><rect x="-19" y="-6.5" width="38" height="13"/><text y="2">Seguridad</text></g>
<g id="r02" class="n rd" transform="translate(795,460)"><rect x="-29" y="-6.5" width="58" height="13"/><text y="2">Necesidad de ocio</text></g>
<g id="r03" class="n rd" transform="translate(722,494)"><rect x="-32.5" y="-6.5" width="65" height="13"/><text y="2">Servicios turísticos</text></g>
<g id="r04" class="n rd" transform="translate(789,493)"><rect x="-16.5" y="-6.5" width="33" height="13"/><text y="2">Encuestas</text></g>
<g id="r05" class="n rd" transform="translate(683,514)"><rect x="-19" y="-6.5" width="38" height="13"/><text y="2">Diferencias</text></g>
<g id="r06" class="n rd" transform="translate(595,529)"><rect x="-16.5" y="-6.5" width="33" height="13"/><text y="2">Temporada</text></g>
<g id="r07" class="n rd" transform="translate(793,527)"><rect x="-15" y="-6.5" width="30" height="13"/><text y="2">Ventajas</text></g>
<g id="r08" class="n rd" transform="translate(861,521)"><rect x="-19" y="-6.5" width="38" height="13"/><text y="2">Excursiones</text></g>
<g id="r09" class="n rd" transform="translate(725,545)"><rect x="-13.5" y="-6.5" width="27" height="13"/><text y="2">Calidad</text></g>
<g id="r10" class="n rd" transform="translate(668,548)"><rect x="-32.5" y="-6.5" width="65" height="13"/><text y="2">De ocio y recreación</text></g>
<g id="r11" class="n rd" transform="translate(585,564)"><rect x="-20.5" y="-6.5" width="41" height="13"/><text y="2">Temporalidad</text></g>
<g id="r12" class="n rd" transform="translate(658,566)"><rect x="-37" y="-6.5" width="74" height="13"/><text y="2">Precios de los paquetes</text></g>
<g id="r13" class="n rd" transform="translate(808,563)"><rect x="-28" y="-6.5" width="56" height="13"/><text y="2">Bienes turísticos</text></g>
<g id="r14" class="n rd b" transform="translate(709,585)"><rect x="-35" y="-6.5" width="70" height="13"/><text y="2">Productos Turísticos</text></g>
<g id="r15" class="n rd" transform="translate(622,602)"><rect x="-34" y="-6.5" width="68" height="13"/><text y="2">Corredores Regionales</text></g>
<g id="r16" class="n rd" transform="translate(853,610)"><rect x="-12" y="-6.5" width="24" height="13"/><text y="2">Oferta</text></g>
<g id="r17" class="n rd" transform="translate(753,630)"><rect x="-26.5" y="-6.5" width="53" height="13"/><text y="2">Rutas turísticas</text></g>
<g id="r18" class="n rd" transform="translate(837,643)"><rect x="-32.5" y="-6.5" width="65" height="13"/><text y="2">Calidad de la oferta</text></g>
<g id="r19" class="n rd" transform="translate(908,643)"><rect x="-10.5" y="-6.5" width="21" height="13"/><text y="2">Costo</text></g>
<g id="r20" class="n rd" transform="translate(663,672)"><rect x="-18" y="-6.5" width="36" height="13"/><text y="2">Distintivo</text></g>
<g id="r21" class="n rd" transform="translate(723,671)"><rect x="-20.5" y="-6.5" width="41" height="13"/><text y="2">Distintivo M</text></g>
<g id="r22" class="n rd" transform="translate(796,682)"><rect x="-20.5" y="-6.5" width="41" height="13"/><text y="2">Distintivo S</text></g>
<g id="r23" class="n rd" transform="translate(664,700)"><rect x="-37" y="-6.5" width="74" height="13"/><text y="2">Distintivo Punto Limpio</text></g>
<g id="r24" class="n rd" transform="translate(777,709)"><rect x="-22" y="-6.5" width="44" height="13"/><text y="2">Certificación</text></g>
<g id="r25" class="n rd b" transform="translate(863,719)"><rect x="-35" y="-6.5" width="70" height="13"/><text y="2">Servicios Turísticos</text></g>
<g id="r26" class="n rd" transform="translate(955,676)"><rect x="-26.5" y="-6.5" width="53" height="13"/><text y="2">Comercialización</text></g>
<g id="r27" class="n rd" transform="translate(593,731)"><rect x="-47.5" y="-6.5" width="95" height="13"/><text y="2">Distintivo Moderniza de México</text></g>
<g id="r28" class="n rd" transform="translate(622,763)"><rect x="-23.5" y="-6.5" width="47" height="13"/><text y="2">Guía turístico</text></g>
<g id="r29" class="n rd" transform="translate(682,791)"><rect x="-32.5" y="-6.5" width="65" height="13"/><text y="2">Establecimientos A&amp;B</text></g>
<g id="r30" class="n rd" transform="translate(623,834)"><rect x="-16.5" y="-6.5" width="33" height="13"/><text y="2">Hotelería</text></g>
<g id="r31" class="n rd" transform="translate(644,866)"><rect x="-51.5" y="-6.5" width="103" height="13"/><text y="2">Seguridad y protección al turista</text></g>
<g id="r32" class="n rd" transform="translate(745,837)"><rect x="-10.5" y="-6.5" width="21" height="13"/><text y="2">Bares</text></g>
<g id="r33" class="n rd" transform="translate(736,894)"><rect x="-50" y="-6.5" width="100" height="13"/><text y="2">Módulos de información turística</text></g>
<g id="r34" class="n rd" transform="translate(812,812)"><rect x="-12" y="-6.5" width="24" height="13"/><text y="2">Sitios</text></g>
<g id="r35" class="n rd" transform="translate(834,857)"><rect x="-13.5" y="-6.5" width="27" height="13"/><text y="2">Hoteles</text></g>
<g id="r36" class="n rd" transform="translate(955,864)"><rect x="-46" y="-6.5" width="92" height="13"/><text y="2">Establecimientos de hospedaje</text></g>
<g id="r37" class="n rd" transform="translate(884,889)"><rect x="-13.5" y="-6.5" width="27" height="13"/><text y="2">Moteles</text></g>
<g id="r38" class="n rd" transform="translate(922,913)"><rect x="-28" y="-6.5" width="56" height="13"/><text y="2">Casa de huéspedes</text></g>
<g id="r39" class="n rd" transform="translate(768,954)"><rect x="-31" y="-6.5" width="62" height="13"/><text y="2">Patrimonio cultural</text></g>
<g id="r40" class="n rd" transform="translate(971,936)"><rect x="-10.5" y="-6.5" width="21" height="13"/><text y="2">Hotel</text></g>
<g id="r41" class="n rd" transform="translate(913,963)"><rect x="-19" y="-6.5" width="38" height="13"/><text y="2">2 estrellas</text></g>
<g id="r42" class="n rd" transform="translate(957,975)"><rect x="-19" y="-6.5" width="38" height="13"/><text y="2">3 estrellas</text></g>
<g id="r43" class="n rd" transform="translate(985,997)"><rect x="-19" y="-6.5" width="38" height="13"/><text y="2">Restaurante</text></g>
<g id="r44" class="n rd" transform="translate(911,1005)"><rect x="-18" y="-6.5" width="36" height="13"/><text y="2">1 estrella</text></g>
<g id="r45" class="n rd" transform="translate(934,779)"><rect x="-29.5" y="-6.5" width="59" height="13"/><text y="2">Agencias de viajes</text></g>
<g id="r46" class="n rd" transform="translate(966,806)"><rect x="-46" y="-6.5" width="92" height="13"/><text y="2">Oferta de alimentos y bebidas</text></g>
<g id="r47" class="n rd" transform="translate(1021,772)"><rect x="-26.5" y="-6.5" width="53" height="13"/><text y="2">Guía de turistas</text></g>
<g id="r48" class="n rd" transform="translate(1113,782)"><rect x="-23.5" y="-6.5" width="47" height="13"/><text y="2">Discapacidades</text></g>
<g id="r49" class="n rd" transform="translate(1032,838)"><rect x="-10.5" y="-6.5" width="21" height="13"/><text y="2">Motel</text></g>
<g id="r50" class="n rd" transform="translate(1060,863)"><rect x="-12" y="-6.5" width="24" height="13"/><text y="2">Posada</text></g>
<g id="r51" class="n rd" transform="translate(1047,885)"><rect x="-15" y="-6.5" width="30" height="13"/><text y="2">Bungalow</text></g>
<g id="r52" class="n rd" transform="translate(1020,908)"><rect x="-12" y="-6.5" width="24" height="13"/><text y="2">Hostal</text></g>
<g id="r53" class="n rd" transform="translate(1072,963)"><rect x="-13.5" y="-6.5" width="27" height="13"/><text y="2">Cantina</text></g>
<g id="r54" class="n rd" transform="translate(1035,981)"><rect x="-16.5" y="-6.5" width="33" height="13"/><text y="2">Cafetería</text></g>
<g id="r55" class="n rd" transform="translate(1063,1005)"><rect x="-10" y="-6.5" width="20" height="13"/><text y="2">Bar</text></g>
<g id="m01" class="n mb" transform="translate(937,493)"><rect x="-23.5" y="-6.5" width="47" height="13"/><text y="2">Competitividad</text></g>
<g id="m02" class="n mb" transform="translate(922,523)"><rect x="-13.5" y="-6.5" width="27" height="13"/><text y="2">Calidad</text></g>
<g id="m03" class="n mb" transform="translate(960,563)"><rect x="-43" y="-6.5" width="86" height="13"/><text y="2">Establecimientos turísticos</text></g>
<g id="m04" class="n mb" transform="translate(923,598)"><rect x="-16.5" y="-6.5" width="33" height="13"/><text y="2">Pasajeros</text></g>
<g id="m05" class="n mb" transform="translate(972,632)"><rect x="-16.5" y="-6.5" width="33" height="13"/><text y="2">Visitante</text></g>
<g id="m06" class="n mb" transform="translate(1022,489)"><rect x="-34" y="-6.5" width="68" height="13"/><text y="2">Atractivos turísticos</text></g>
<g id="m07" class="n mb b" transform="translate(1033,556)"><rect x="-16" y="-6.5" width="32" height="13"/><text y="2">Demanda</text></g>
<g id="m08" class="n mb" transform="translate(1028,623)"><rect x="-22" y="-6.5" width="44" height="13"/><text y="2">Investigación</text></g>
<g id="m09" class="n mb" transform="translate(1085,601)"><rect x="-9" y="-6.5" width="18" height="13"/><text y="2">Ocio</text></g>
<g id="m10" class="n mb" transform="translate(1105,638)"><rect x="-22" y="-6.5" width="44" height="13"/><text y="2">Vía terrestre</text></g>
<g id="m11" class="n mb" transform="translate(1148,618)"><rect x="-23.5" y="-6.5" width="47" height="13"/><text y="2">Desplazamiento</text></g>
<g id="m12" class="n mb" transform="translate(1198,533)"><rect x="-12" y="-6.5" width="24" height="13"/><text y="2">Viajar</text></g>
<g id="m13" class="n mb" transform="translate(1229,551)"><rect x="-13.5" y="-6.5" width="27" height="13"/><text y="2">Turista</text></g>
<g id="m14" class="n mb" transform="translate(1258,588)"><rect x="-10.5" y="-6.5" width="21" height="13"/><text y="2">Gasto</text></g>
<g id="m15" class="n mb" transform="translate(1290,607)"><rect x="-18" y="-6.5" width="36" height="13"/><text y="2">Motivación</text></g>
<g id="m16" class="n mb" transform="translate(1197,639)"><rect x="-16.5" y="-6.5" width="33" height="13"/><text y="2">Vía aérea</text></g>
<g id="m17" class="n mb" transform="translate(1243,656)"><rect x="-20.5" y="-6.5" width="41" height="13"/><text y="2">Vía marítima</text></g>
<g id="m18" class="n mb" transform="translate(1403,629)"><rect x="-20.5" y="-6.5" width="41" height="13"/><text y="2">Satisfacción</text></g>
<g id="m19" class="n mb" transform="translate(1018,669)"><rect x="-18" y="-6.5" width="36" height="13"/><text y="2">Transporte</text></g>
<g id="m20" class="n mb" transform="translate(1062,668)"><rect x="-13.5" y="-6.5" width="27" height="13"/><text y="2">Autobús</text></g>
<g id="m21" class="n mb" transform="translate(1143,667)"><rect x="-19" y="-6.5" width="38" height="13"/><text y="2">Ferrocarril</text></g>
<g id="m22" class="n mb" transform="translate(1192,669)"><rect x="-10.5" y="-6.5" width="21" height="13"/><text y="2">Avión</text></g>
<g id="m23" class="n mb" transform="translate(1099,682)"><rect x="-16.5" y="-6.5" width="33" height="13"/><text y="2">Automóvil</text></g>
<g id="m24" class="n mb" transform="translate(1152,694)"><rect x="-10.5" y="-6.5" width="21" height="13"/><text y="2">Barco</text></g>
<g id="m25" class="n mb" transform="translate(1260,683)"><rect x="-19" y="-6.5" width="38" height="13"/><text y="2">Procedencia</text></g>
<g id="m26" class="n mb" transform="translate(1393,675)"><rect x="-19" y="-6.5" width="38" height="13"/><text y="2">Comunidades</text></g>
<g id="m27" class="n mb" transform="translate(1465,670)"><rect x="-15" y="-6.5" width="30" height="13"/><text y="2">Estancia</text></g>
<g id="m28" class="n mb" transform="translate(1306,709)"><rect x="-22" y="-6.5" width="44" height="13"/><text y="2">Internacional</text></g>
<g id="m29" class="n mb" transform="translate(1356,713)"><rect x="-15" y="-6.5" width="30" height="13"/><text y="2">Nacional</text></g>
<g id="m30" class="n mb" transform="translate(1421,711)"><rect x="-16.5" y="-6.5" width="33" height="13"/><text y="2">Municipal</text></g>
<g id="m31" class="n mb" transform="translate(1023,707)"><rect x="-15" y="-6.5" width="30" height="13"/><text y="2">Regional</text></g>
<g id="m32" class="n mb" transform="translate(1128,722)"><rect x="-15" y="-6.5" width="30" height="13"/><text y="2">De playa</text></g>
<g id="m33" class="n mb" transform="translate(1207,718)"><rect x="-20.5" y="-6.5" width="41" height="13"/><text y="2">Vía acuática</text></g>
<g id="m34" class="n mb" transform="translate(1253,728)"><rect x="-9" y="-6.5" width="18" height="13"/><text y="2">Ruta</text></g>
<g id="m35" class="n mb" transform="translate(1078,737)"><rect x="-15" y="-6.5" width="30" height="13"/><text y="2">Pernocta</text></g>
<g id="m36" class="n mb" transform="translate(1176,739)"><rect x="-13.5" y="-6.5" width="27" height="13"/><text y="2">Llegada</text></g>
<g id="m37" class="n mb" transform="translate(1620,569)"><rect x="-22" y="-6.5" width="44" height="13"/><text y="2">Excursionismo</text></g>
<g id="m38" class="n mb" transform="translate(1730,555)"><rect x="-22" y="-6.5" width="44" height="13"/><text y="2">Turismo rural</text></g>
<g id="m39" class="n mb" transform="translate(1712,584)"><rect x="-35.5" y="-6.5" width="71" height="13"/><text y="2">Turismo de sol y playa</text></g>
<g id="m40" class="n mb" transform="translate(1789,577)"><rect x="-18" y="-6.5" width="36" height="13"/><text y="2">Ecoturismo</text></g>
<g id="m41" class="n mb" transform="translate(1675,609)"><rect x="-32.5" y="-6.5" width="65" height="13"/><text y="2">Segmentos de turismo</text></g>
<g id="m42" class="n mb" transform="translate(1760,605)"><rect x="-34" y="-6.5" width="68" height="13"/><text y="2">Turismo de naturaleza</text></g>
<g id="m43" class="n mb" transform="translate(1595,624)"><rect x="-28" y="-6.5" width="56" height="13"/><text y="2">Turismo religioso</text></g>
<g id="m44" class="n mb" transform="translate(1634,643)"><rect x="-26.5" y="-6.5" width="53" height="13"/><text y="2">Turismo cultural</text></g>
<g id="m45" class="n mb" transform="translate(1700,644)"><rect x="-26.5" y="-6.5" width="53" height="13"/><text y="2">Turismo de salud</text></g>
<g id="m46" class="n mb" transform="translate(1673,667)"><rect x="-31" y="-6.5" width="62" height="13"/><text y="2">Turismo de negocios</text></g>
<g id="m47" class="n mb" transform="translate(1766,666)"><rect x="-31" y="-6.5" width="62" height="13"/><text y="2">Turismo de aventura</text></g>
<g id="m48" class="n mb" transform="translate(1763,685)"><rect x="-32.5" y="-6.5" width="65" height="13"/><text y="2">Turismo de reuniones</text></g>
<g id="m49" class="n mb" transform="translate(1560,668)"><rect x="-18" y="-6.5" width="36" height="13"/><text y="2">Valoración</text></g>
<g id="m50" class="n mb" transform="translate(1532,701)"><rect x="-25" y="-6.5" width="50" height="13"/><text y="2">Sustentabilidad</text></g>
<g id="t01" class="n br" transform="translate(1684,530)"><rect x="-30" y="-6.5" width="60" height="13"/><text y="2">Tipos de turismo</text></g>
<g id="v01" class="n ol" transform="translate(1106,13)"><rect x="-13.5" y="-6.5" width="27" height="13"/><text y="2">Fuentes</text></g>
<g id="v02" class="n ol" transform="translate(1078,47)"><rect x="-15" y="-6.5" width="30" height="13"/><text y="2">Desierto</text></g>
<g id="v03" class="n ol" transform="translate(1120,51)"><rect x="-12" y="-6.5" width="24" height="13"/><text y="2">Volcán</text></g>
<g id="v04" class="n ol" transform="translate(1163,43)"><rect x="-12" y="-6.5" width="24" height="13"/><text y="2">Costas</text></g>
<g id="v05" class="n ol" transform="translate(1098,72)"><rect x="-10.5" y="-6.5" width="21" height="13"/><text y="2">Bahía</text></g>
<g id="v06" class="n ol" transform="translate(1058,78)"><rect x="-10.5" y="-6.5" width="21" height="13"/><text y="2">Dunas</text></g>
<g id="v07" class="n ol" transform="translate(1199,60)"><rect x="-9" y="-6.5" width="18" height="13"/><text y="2">Ríos</text></g>
<g id="v08" class="n ol" transform="translate(1227,66)"><rect x="-12" y="-6.5" width="24" height="13"/><text y="2">Cañón</text></g>
<g id="v09" class="n ol" transform="translate(1133,88)"><rect x="-13.5" y="-6.5" width="27" height="13"/><text y="2">Colinas</text></g>
<g id="v10" class="n ol" transform="translate(1164,74)"><rect x="-10.5" y="-6.5" width="21" height="13"/><text y="2">Playa</text></g>
<g id="v11" class="n ol" transform="translate(1282,86)"><rect x="-12" y="-6.5" width="24" height="13"/><text y="2">Sierra</text></g>
<g id="v12" class="n ol" transform="translate(1098,105)"><rect x="-15" y="-6.5" width="30" height="13"/><text y="2">Montaña</text></g>
<g id="v13" class="n ol" transform="translate(1174,105)"><rect x="-13.5" y="-6.5" width="27" height="13"/><text y="2">Laguna</text></g>
<g id="v14" class="n ol" transform="translate(1209,95)"><rect x="-16.5" y="-6.5" width="33" height="13"/><text y="2">Barrancas</text></g>
<g id="v15" class="n ol" transform="translate(1249,106)"><rect x="-12" y="-6.5" width="24" height="13"/><text y="2">Valle</text></g>
<g id="v16" class="n ol" transform="translate(1327,106)"><rect x="-13.5" y="-6.5" width="27" height="13"/><text y="2">Glaciar</text></g>
<g id="v17" class="n ol" transform="translate(1062,113)"><rect x="-10.5" y="-6.5" width="21" height="13"/><text y="2">Lagos</text></g>
<g id="v18" class="n ol" transform="translate(1033,128)"><rect x="-15" y="-6.5" width="30" height="13"/><text y="2">Manglar</text></g>
<g id="v19" class="n ol" transform="translate(1074,144)"><rect x="-13.5" y="-6.5" width="27" height="13"/><text y="2">Bosque</text></g>
<g id="v20" class="n ol" transform="translate(1197,131)"><rect x="-9" y="-6.5" width="18" height="13"/><text y="2">Mar</text></g>
<g id="v21" class="n ol" transform="translate(1289,126)"><rect x="-12" y="-6.5" width="24" height="13"/><text y="2">Selva</text></g>
<g id="v22" class="n ol" transform="translate(1243,143)"><rect x="-9" y="-6.5" width="18" height="13"/><text y="2">Isla</text></g>
<g id="v23" class="n ol" transform="translate(1290,157)"><rect x="-10.5" y="-6.5" width="21" height="13"/><text y="2">Flora</text></g>
<g id="v24" class="n ol" transform="translate(1331,156)"><rect x="-12" y="-6.5" width="24" height="13"/><text y="2">Fauna</text></g>
<g id="v25" class="n ol" transform="translate(1065,168)"><rect x="-25" y="-6.5" width="50" height="13"/><text y="2">Paisaje Natural</text></g>
<g id="v26" class="n ol" transform="translate(998,157)"><rect x="-15" y="-6.5" width="30" height="13"/><text y="2">Geología</text></g>
<g id="v27" class="n ol" transform="translate(1130,171)"><rect x="-13.5" y="-6.5" width="27" height="13"/><text y="2">Relieve</text></g>
<g id="v28" class="n ol" transform="translate(1178,178)"><rect x="-18" y="-6.5" width="36" height="13"/><text y="2">Ecosistema</text></g>
<g id="v29" class="n ol" transform="translate(1223,176)"><rect x="-18" y="-6.5" width="36" height="13"/><text y="2">Fenómenos</text></g>
<g id="v30" class="n ol" transform="translate(1275,183)"><rect x="-13.5" y="-6.5" width="27" height="13"/><text y="2">Latitud</text></g>
<g id="v31" class="n ol" transform="translate(1340,178)"><rect x="-15" y="-6.5" width="30" height="13"/><text y="2">Longitud</text></g>
<g id="v32" class="n ol" transform="translate(1363,206)"><rect x="-20.5" y="-6.5" width="41" height="13"/><text y="2">Temperatura</text></g>
<g id="v33" class="n ol" transform="translate(1009,200)"><rect x="-10.5" y="-6.5" width="21" height="13"/><text y="2">Suelo</text></g>
<g id="v34" class="n ol" transform="translate(1115,215)"><rect x="-10" y="-6.5" width="20" height="13"/><text y="2">Agua</text></g>
<g id="v35" class="n ol" transform="translate(1156,209)"><rect x="-12" y="-6.5" width="24" height="13"/><text y="2">Sonido</text></g>
<g id="v36" class="n ol" transform="translate(1054,237)"><rect x="-44.5" y="-6.5" width="89" height="13"/><text y="2">Patrimonio natural turístico</text></g>
<g id="v37" class="n ol" transform="translate(1186,233)"><rect x="-18" y="-6.5" width="36" height="13"/><text y="2">Hidrología</text></g>
<g id="v38" class="n ol" transform="translate(1001,258)"><rect x="-10.5" y="-6.5" width="21" height="13"/><text y="2">Rocas</text></g>
<g id="v39" class="n ol" transform="translate(1132,260)"><rect x="-41.5" y="-6.5" width="83" height="13"/><text y="2">Elemento natural atractivo</text></g>
<g id="v40" class="n do b" transform="translate(1067,296)"><rect x="-27" y="-7" width="54" height="14"/><text y="2">Medio Natural</text></g>
<g id="y01" class="n ye" transform="translate(1357,134)"><rect x="-25" y="-6.5" width="50" height="13"/><text y="2">Localidad rural</text></g>
<g id="y02" class="n ye" transform="translate(1238,206)"><rect x="-13.5" y="-6.5" width="27" height="13"/><text y="2">Coord X</text></g>
<g id="y03" class="n ye" transform="translate(1292,219)"><rect x="-13.5" y="-6.5" width="27" height="13"/><text y="2">Coord Y</text></g>
<g id="y04" class="n ye" transform="translate(1345,245)"><rect x="-26.5" y="-6.5" width="53" height="13"/><text y="2">Localidad urbana</text></g>
<g id="y05" class="n ye" transform="translate(1249,264)"><rect x="-13.5" y="-6.5" width="27" height="13"/><text y="2">Coord Z</text></g>
<g id="y06" class="n ye" transform="translate(1285,277)"><rect x="-16.5" y="-6.5" width="33" height="13"/><text y="2">Población</text></g>
<g id="y07" class="n ye" transform="translate(1285,300)"><rect x="-16.5" y="-6.5" width="33" height="13"/><text y="2">Municipio</text></g>
<g id="y08" class="n ye" transform="translate(1179,292)"><rect x="-20.5" y="-6.5" width="41" height="13"/><text y="2">Localización</text></g>
<g id="y09" class="n ye" transform="translate(1286,326)"><rect x="-29.5" y="-6.5" width="59" height="13"/><text y="2">Entidad federativa</text></g>
<g id="y10" class="n ye" transform="translate(1193,344)"><rect x="-20.5" y="-6.5" width="41" height="13"/><text y="2">Distribución</text></g>
<g id="y11" class="n ye" transform="translate(1325,349)"><rect x="-12" y="-6.5" width="24" height="13"/><text y="2">Región</text></g>
<g id="y12" class="n ye b" transform="translate(1088,369)"><rect x="-33" y="-6.5" width="66" height="13"/><text y="2">Espacio Geográfico</text></g>
<g id="y13" class="n ye" transform="translate(1138,459)"><rect x="-29.5" y="-6.5" width="59" height="13"/><text y="2">Polígono turístico</text></g>
<g id="p01" class="n pu" transform="translate(1498,26)"><rect x="-31" y="-6.5" width="62" height="13"/><text y="2">Estudios de mercado</text></g>
<g id="p02" class="n pu" transform="translate(1550,57)"><rect x="-15" y="-6.5" width="30" height="13"/><text y="2">Contacto</text></g>
<g id="p03" class="n pu" transform="translate(1618,48)"><rect x="-13.5" y="-6.5" width="27" height="13"/><text y="2">Llegada</text></g>
<g id="p04" class="n pu b" transform="translate(1570,92)"><rect x="-13" y="-6.5" width="26" height="13"/><text y="2">Precio</text></g>
<g id="p05" class="n pu" transform="translate(1597,108)"><rect x="-18" y="-6.5" width="36" height="13"/><text y="2">Descuentos</text></g>
<g id="p06" class="n pu b" transform="translate(1654,113)"><rect x="-16.5" y="-6.5" width="33" height="13"/><text y="2">Procesos</text></g>
<g id="p07" class="n pu" transform="translate(1720,107)"><rect x="-10.5" y="-6.5" width="21" height="13"/><text y="2">Canal</text></g>
<g id="p08" class="n pu" transform="translate(1769,116)"><rect x="-31" y="-6.5" width="62" height="13"/><text y="2">Medios de promoción</text></g>
<g id="p09" class="n pu" transform="translate(1813,90)"><rect x="-38.5" y="-6.5" width="77" height="13"/><text y="2">Contenidos audiovisuales</text></g>
<g id="p10" class="n pu" transform="translate(1867,111)"><rect x="-9" y="-6.5" width="18" height="13"/><text y="2">Cine</text></g>
<g id="p11" class="n pu" transform="translate(1815,127)"><rect x="-7" y="-6.5" width="14" height="13"/><text y="2">TV</text></g>
<g id="p12" class="n pu" transform="translate(1840,141)"><rect x="-10.5" y="-6.5" width="21" height="13"/><text y="2">Radio</text></g>
<g id="p13" class="n pu" transform="translate(1689,137)"><rect x="-18" y="-6.5" width="36" height="13"/><text y="2">Publicidad</text></g>
<g id="p14" class="n pu b" transform="translate(1564,137)"><rect x="-26" y="-6.5" width="52" height="13"/><text y="2">Mercadotecnia</text></g>
<g id="p15" class="n pu" transform="translate(1770,160)"><rect x="-34" y="-6.5" width="68" height="13"/><text y="2">Medios masivos de com</text></g>
<g id="p16" class="n pu" transform="translate(1862,166)"><rect x="-15" y="-6.5" width="30" height="13"/><text y="2">Revistas</text></g>
<g id="p17" class="n pu" transform="translate(1903,157)"><rect x="-15" y="-6.5" width="30" height="13"/><text y="2">Carteles</text></g>
<g id="p18" class="n pu" transform="translate(1821,177)"><rect x="-15" y="-6.5" width="30" height="13"/><text y="2">Internet</text></g>
<g id="p19" class="n pu" transform="translate(1947,178)"><rect x="-23.5" y="-6.5" width="47" height="13"/><text y="2">Espectaculares</text></g>
<g id="p20" class="n pu b" transform="translate(1534,186)"><rect x="-11" y="-6.5" width="22" height="13"/><text y="2">Plaza</text></g>
<g id="p21" class="n pu" transform="translate(1652,158)"><rect x="-28" y="-6.5" width="56" height="13"/><text y="2">Mercado personal</text></g>
<g id="p22" class="n pu b" transform="translate(1645,189)"><rect x="-19" y="-6.5" width="38" height="13"/><text y="2">Promoción</text></g>
<g id="p23" class="n pu" transform="translate(1724,199)"><rect x="-35.5" y="-6.5" width="71" height="13"/><text y="2">Medios de comunicación</text></g>
<g id="p24" class="n pu" transform="translate(1815,197)"><rect x="-35.5" y="-6.5" width="71" height="13"/><text y="2">Medios complementarios</text></g>
<g id="p25" class="n pu" transform="translate(1905,197)"><rect x="-19" y="-6.5" width="38" height="13"/><text y="2">El exterior</text></g>
<g id="p26" class="n pu" transform="translate(1948,212)"><rect x="-32.5" y="-6.5" width="65" height="13"/><text y="2">Paradas de autobuses</text></g>
<g id="p27" class="n pu" transform="translate(1582,193)"><rect x="-25" y="-6.5" width="50" height="13"/><text y="2">Oficina pública</text></g>
<g id="p28" class="n pu" transform="translate(1620,214)"><rect x="-31" y="-6.5" width="62" height="13"/><text y="2">Relaciones públicas</text></g>
<g id="p29" class="n pu" transform="translate(1549,214)"><rect x="-19" y="-6.5" width="38" height="13"/><text y="2">Electrónica</text></g>
<g id="p30" class="n pu" transform="translate(1497,209)"><rect x="-10.5" y="-6.5" width="21" height="13"/><text y="2">Pagos</text></g>
<g id="p31" class="n pu" transform="translate(1539,238)"><rect x="-19" y="-6.5" width="38" height="13"/><text y="2">Página web</text></g>
<g id="p32" class="n pu" transform="translate(1704,242)"><rect x="-26.5" y="-6.5" width="53" height="13"/><text y="2">Mercado nacional</text></g>
<g id="p33" class="n pu" transform="translate(1599,252)"><rect x="-23.5" y="-6.5" width="47" height="13"/><text y="2">Redes sociales</text></g>
<g id="p34" class="n pu" transform="translate(1790,234)"><rect x="-29.5" y="-6.5" width="59" height="13"/><text y="2">Publicidad directa</text></g>
<g id="p35" class="n pu" transform="translate(1868,241)"><rect x="-18" y="-6.5" width="36" height="13"/><text y="2">El interior</text></g>
<g id="p36" class="n pu" transform="translate(1759,256)"><rect x="-12" y="-6.5" width="24" height="13"/><text y="2">Correo</text></g>
<g id="p37" class="n pu" transform="translate(1824,257)"><rect x="-15" y="-6.5" width="30" height="13"/><text y="2">Folletos</text></g>
<g id="p38" class="n pu" transform="translate(1597,279)"><rect x="-15" y="-6.5" width="30" height="13"/><text y="2">Facebook</text></g>
<g id="p39" class="n pu" transform="translate(1655,285)"><rect x="-15" y="-6.5" width="30" height="13"/><text y="2">Youtuber</text></g>
<g id="p40" class="n pu" transform="translate(1714,275)"><rect x="-34" y="-6.5" width="68" height="13"/><text y="2">Mercado internacional</text></g>
<g id="p41" class="n pu" transform="translate(1779,291)"><rect x="-15" y="-6.5" width="30" height="13"/><text y="2">Volantes</text></g>
<g id="p42" class="n pu" transform="translate(1819,293)"><rect x="-16.5" y="-6.5" width="33" height="13"/><text y="2">Catálogos</text></g>
<g id="p43" class="n pu" transform="translate(1565,313)"><rect x="-16.5" y="-6.5" width="33" height="13"/><text y="2">Instagram</text></g>
<g id="p44" class="n pu" transform="translate(1624,312)"><rect x="-13.5" y="-6.5" width="27" height="13"/><text y="2">Twitter</text></g>
<g id="p45" class="n pu" transform="translate(1730,307)"><rect x="-12" y="-6.5" width="24" height="13"/><text y="2">Envíos</text></g>
<g id="p46" class="n pu" transform="translate(1871,311)"><rect x="-37" y="-6.5" width="74" height="13"/><text y="2">Eventos internacionales</text></g>
<g id="p47" class="n pu" transform="translate(1759,337)"><rect x="-16.5" y="-6.5" width="33" height="13"/><text y="2">Encuestas</text></g>
<g id="p48" class="n pu" transform="translate(1822,333)"><rect x="-35.5" y="-6.5" width="71" height="13"/><text y="2">Publicidad alternativa</text></g>
<g id="p49" class="n pu" transform="translate(1685,356)"><rect x="-26.5" y="-6.5" width="53" height="13"/><text y="2">Atención directa</text></g>
<g id="p50" class="n pu" transform="translate(1372,37)"><rect x="-53" y="-6.5" width="106" height="13"/><text y="2">Programa de mercadotecnia integral</text></g>
<g id="p51" class="n pu" transform="translate(1380,78)"><rect x="-28" y="-6.5" width="56" height="13"/><text y="2">Imagen de destino</text></g>
<g id="p52" class="n pu" transform="translate(1413,111)"><rect x="-28" y="-6.5" width="56" height="13"/><text y="2">Proceso de diseño</text></g>
<g id="p53" class="n pu" transform="translate(1427,139)"><rect x="-10.5" y="-6.5" width="21" height="13"/><text y="2">Marca</text></g>
<g id="p54" class="n pu b" transform="translate(1467,139)"><rect x="-17" y="-6.5" width="34" height="13"/><text y="2">Producto</text></g>
<g id="p55" class="n pu" transform="translate(1442,162)"><rect x="-22" y="-6.5" width="44" height="13"/><text y="2">Ciclo de vida</text></g>
<g id="p56" class="n pu" transform="translate(1402,183)"><rect x="-18" y="-6.5" width="36" height="13"/><text y="2">Desarrollo</text></g>
<g id="p57" class="n pu" transform="translate(1398,226)"><rect x="-19" y="-6.5" width="38" height="13"/><text y="2">Crecimiento</text></g>
<g id="p58" class="n pu" transform="translate(1456,229)"><rect x="-16.5" y="-6.5" width="33" height="13"/><text y="2">Estancado</text></g>
<g id="p59" class="n pu" transform="translate(1417,244)"><rect x="-22" y="-6.5" width="44" height="13"/><text y="2">Consolidación</text></g>
<g id="p60" class="n pu" transform="translate(1480,254)"><rect x="-26.5" y="-6.5" width="53" height="13"/><text y="2">Medio comercial</text></g>
<g id="p61" class="n pu" transform="translate(1676,404)"><rect x="-18" y="-6.5" width="36" height="13"/><text y="2">Innovación</text></g>
<g id="p62" class="n pu" transform="translate(1732,396)"><rect x="-26.5" y="-6.5" width="53" height="13"/><text y="2">Productos nuevos</text></g>
<g id="p63" class="n pu" transform="translate(1807,400)"><rect x="-34" y="-6.5" width="68" height="13"/><text y="2">Información turística</text></g>
<g id="p64" class="n pu" transform="translate(1725,431)"><rect x="-31" y="-6.5" width="62" height="13"/><text y="2">Nuevas experiencias</text></g>
<g id="p65" class="n pu" transform="translate(1689,487)"><rect x="-16.5" y="-6.5" width="33" height="13"/><text y="2">Emociones</text></g>
<g id="p66" class="n pu" transform="translate(1495,180)"><rect x="-15" y="-6.5" width="30" height="13"/><text y="2">Difusión</text></g>
<g id="g01" class="n gr" transform="translate(1397,267)"><rect x="-40" y="-6.5" width="80" height="13"/><text y="2">Captación de agua pluvial</text></g>
<g id="g02" class="n gr" transform="translate(1427,289)"><rect x="-15" y="-6.5" width="30" height="13"/><text y="2">Biomasa</text></g>
<g id="g03" class="n gr" transform="translate(1411,309)"><rect x="-16.5" y="-6.5" width="33" height="13"/><text y="2">Monitoreo</text></g>
<g id="g04" class="n gr" transform="translate(1460,310)"><rect x="-12" y="-6.5" width="24" height="13"/><text y="2">Eólica</text></g>
<g id="g05" class="n gr" transform="translate(1470,329)"><rect x="-31" y="-6.5" width="62" height="13"/><text y="2">Energía alternativa</text></g>
<g id="g06" class="n gr" transform="translate(1373,340)"><rect x="-28" y="-6.5" width="56" height="13"/><text y="2">Calidad ambiental</text></g>
<g id="g07" class="n gr" transform="translate(1460,349)"><rect x="-41.5" y="-6.5" width="83" height="13"/><text y="2">Certificaciones turísticas</text></g>
<g id="g08" class="n gr" transform="translate(1410,362)"><rect x="-16.5" y="-6.5" width="33" height="13"/><text y="2">Educación</text></g>
<g id="g09" class="n gr" transform="translate(1515,288)"><rect x="-28" y="-6.5" width="56" height="13"/><text y="2">Impacto ambiental</text></g>
<g id="g10" class="n gr" transform="translate(1595,345)"><rect x="-29.5" y="-6.5" width="59" height="13"/><text y="2">Planta de reciclaje</text></g>
<g id="g11" class="n gr" transform="translate(1521,365)"><rect x="-41.5" y="-6.5" width="83" height="13"/><text y="2">Manejo de residuos sólidos</text></g>
<g id="g12" class="n gr" transform="translate(1470,391)"><rect x="-10.5" y="-6.5" width="21" height="13"/><text y="2">Solar</text></g>
<g id="g13" class="n gr" transform="translate(1338,373)"><rect x="-35.5" y="-6.5" width="71" height="13"/><text y="2">Ordenamiento ecológico</text></g>
<g id="g14" class="n gr" transform="translate(1392,394)"><rect x="-31" y="-6.5" width="62" height="13"/><text y="2">Dimensión ambiental</text></g>
<g id="g15" class="n gr" transform="translate(1428,418)"><rect x="-34" y="-6.5" width="68" height="13"/><text y="2">Protección al ambiente</text></g>
<g id="g16" class="n gr" transform="translate(1353,425)"><rect x="-13.5" y="-6.5" width="27" height="13"/><text y="2">Equidad</text></g>
<g id="g17" class="n gr" transform="translate(1421,443)"><rect x="-22" y="-6.5" width="44" height="13"/><text y="2">Accesibilidad</text></g>
<g id="g18" class="n gr" transform="translate(1462,461)"><rect x="-16.5" y="-6.5" width="33" height="13"/><text y="2">Inclusión</text></g>
<g id="g19" class="n gr" transform="translate(1362,458)"><rect x="-26.5" y="-6.5" width="53" height="13"/><text y="2">Dimensión social</text></g>
<g id="g20" class="n gr" transform="translate(1167,409)"><rect x="-47.5" y="-6.5" width="95" height="13"/><text y="2">Indicadores de sustentabilidad</text></g>
<g id="g21" class="n gr b" transform="translate(1262,401)"><rect x="-40" y="-6.5" width="80" height="13"/><text y="2">Desarrollo Sustentable</text></g>
<g id="g22" class="n gr" transform="translate(1201,434)"><rect x="-20.5" y="-6.5" width="41" height="13"/><text y="2">Alta calidad</text></g>
<g id="g23" class="n gr" transform="translate(1255,457)"><rect x="-31" y="-6.5" width="62" height="13"/><text y="2">Dimensión económica</text></g>
<g id="g24" class="n gr" transform="translate(1200,496)"><rect x="-40" y="-6.5" width="80" height="13"/><text y="2">Ordenamiento del comercio</text></g>
<g id="g25" class="n gr" transform="translate(1357,496)"><rect x="-29.5" y="-6.5" width="59" height="13"/><text y="2">Atención ciudadana</text></g>
<g id="g26" class="n gr" transform="translate(1440,493)"><rect x="-29.5" y="-6.5" width="59" height="13"/><text y="2">Redes comunitarias</text></g>
<g id="g27" class="n gr" transform="translate(1275,518)"><rect x="-28" y="-6.5" width="56" height="13"/><text y="2">Manejo de riesgos</text></g>
<g id="g28" class="n gr" transform="translate(1137,528)"><rect x="-18" y="-6.5" width="36" height="13"/><text y="2">Amenidades</text></g>
<g id="g29" class="n gr" transform="translate(1373,537)"><rect x="-16.5" y="-6.5" width="33" height="13"/><text y="2">Bienestar</text></g>
<g id="g30" class="n gr" transform="translate(1442,531)"><rect x="-18" y="-6.5" width="36" height="13"/><text y="2">Urbanismo</text></g>
<g id="g31" class="n gr" transform="translate(1338,562)"><rect x="-37" y="-6.5" width="74" height="13"/><text y="2">Tiempo de esparcimiento</text></g>
<g id="g32" class="n gr" transform="translate(1455,586)"><rect x="-37" y="-6.5" width="74" height="13"/><text y="2">Ordenamiento Territorial</text></g>
<g id="g33" class="n gr" transform="translate(1569,396)"><rect x="-63.5" y="-6.5" width="127" height="13"/><text y="2">Planta de tratamiento de aguas residuales</text></g>
<g id="g34" class="n gr" transform="translate(1546,419)"><rect x="-16.5" y="-6.5" width="33" height="13"/><text y="2">Seguridad</text></g>
<g id="g35" class="n gr" transform="translate(1574,438)"><rect x="-10.5" y="-6.5" width="21" height="13"/><text y="2">Salud</text></g>
<g id="g36" class="n gr" transform="translate(1510,440)"><rect x="-35.5" y="-6.5" width="71" height="13"/><text y="2">Prestación de servicios</text></g>
<g id="g37" class="n gr" transform="translate(1648,448)"><rect x="-16.5" y="-6.5" width="33" height="13"/><text y="2">Movilidad</text></g>
<g id="g38" class="n gr" transform="translate(1534,481)"><rect x="-26.5" y="-6.5" width="53" height="13"/><text y="2">Desarrollo local</text></g>
<g id="g39" class="n gr" transform="translate(1595,523)"><rect x="-23.5" y="-6.5" width="47" height="13"/><text y="2">Capital social</text></g>
<g id="g40" class="n gr" transform="translate(1525,550)"><rect x="-28" y="-6.5" width="56" height="13"/><text y="2">Modelo de Gestión</text></g>
</g>
</svg>
